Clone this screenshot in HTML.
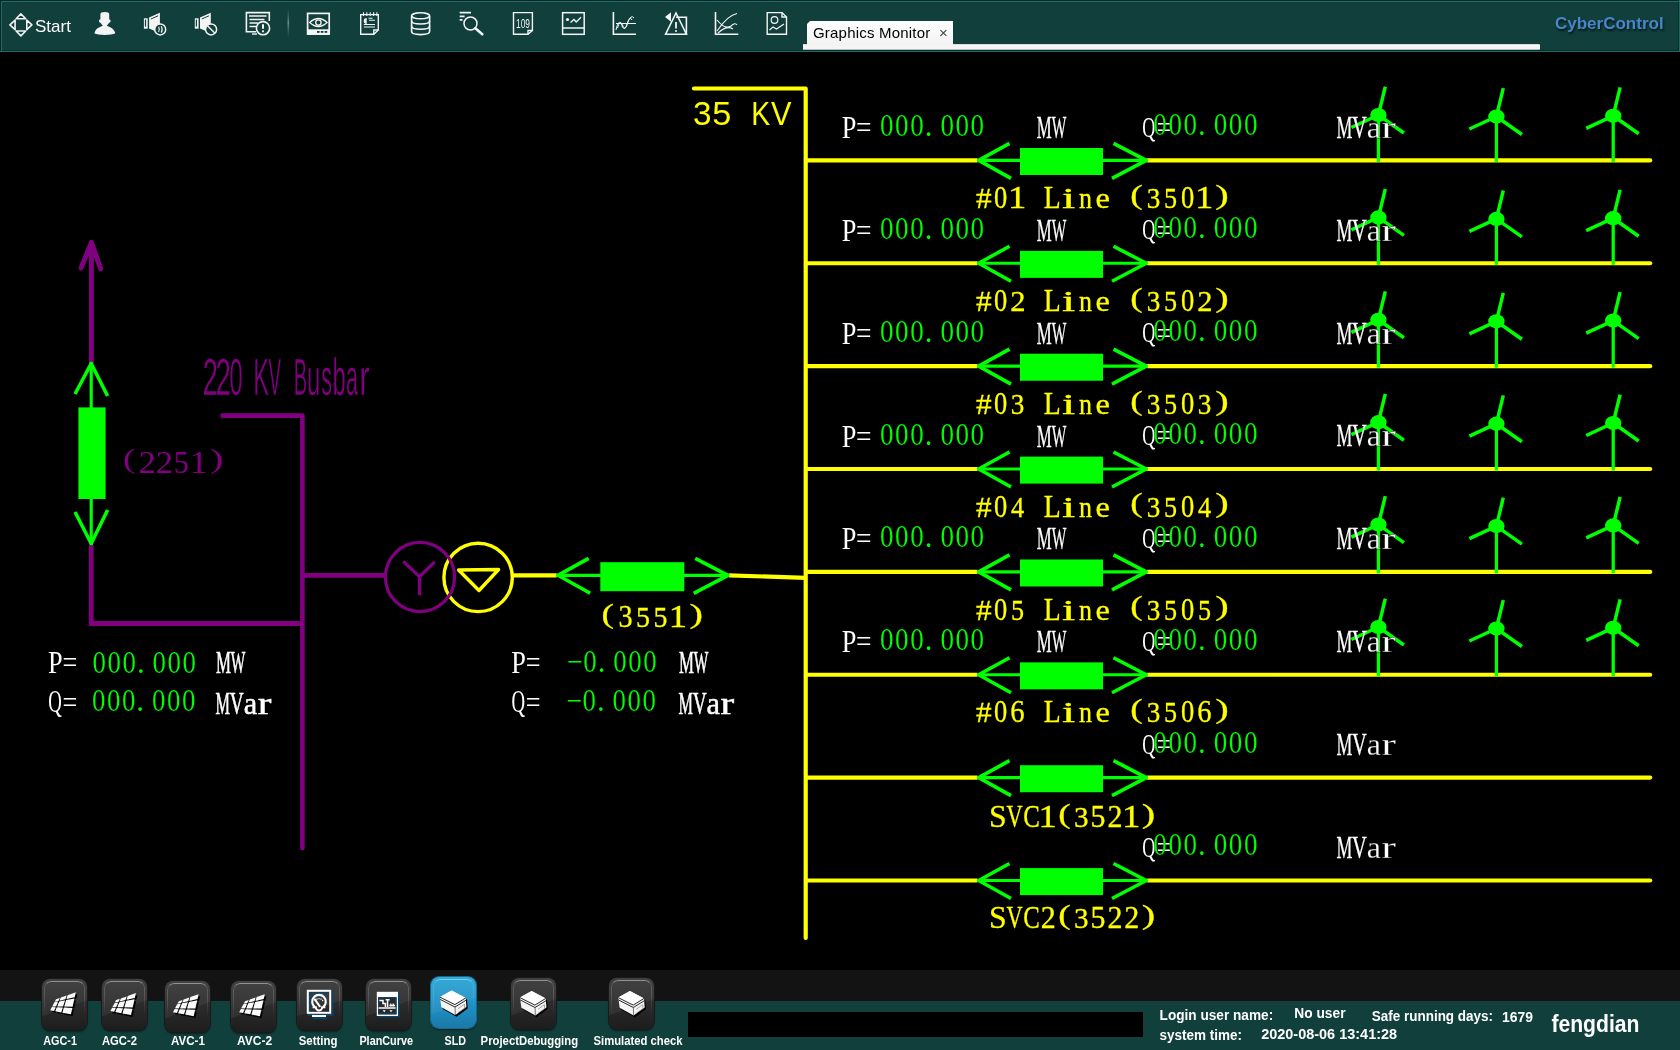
<!DOCTYPE html>
<html><head><meta charset="utf-8"><title>Graphics Monitor</title>
<style>
html,body{margin:0;padding:0;background:#000;width:1680px;height:1050px;overflow:hidden;}
body{position:relative;font-family:"Liberation Sans",sans-serif;}
.abs{position:absolute;will-change:transform;}
#top{position:absolute;left:0;top:0;width:1680px;height:52px;background:#103f3c;}
#top .b1{position:absolute;left:0;top:0;width:1680px;height:1px;background:#0b2626;}
#top .b2{position:absolute;left:1px;top:1px;width:1678px;height:1px;background:#1d6b66;}
#top .b3{position:absolute;left:0;top:0;width:1px;height:52px;background:#0b2626;}
#top .b4{position:absolute;left:1px;top:1px;width:1px;height:50px;background:#1d6b66;}
#top .b5{position:absolute;left:2px;top:50px;width:1677px;height:1px;background:#0c2b2b;}
#top .b6{position:absolute;left:0;top:51px;width:1680px;height:1px;background:#1d6b66;}
#top .b7{position:absolute;left:1678px;top:2px;width:1px;height:49px;background:#0c2b2b;}
#top .b8{position:absolute;left:1679px;top:0;width:1px;height:52px;background:#1d6b66;}
#tabbar{position:absolute;left:803px;top:44px;width:737px;height:6px;background:linear-gradient(#c8c8c8 0,#f6f6f6 18%,#f4f4f4 75%,#a0a0a0 100%);border-radius:0 1px 1px 0;}
#tab{position:absolute;will-change:transform;left:807px;top:21px;width:146px;height:25px;background:linear-gradient(#ffffff,#f2f2f2);clip-path:polygon(3px 0,100% 0,100% 100%,0 100%,0 3px);}
#tab .t{position:absolute;left:6px;top:3px;font-size:15px;letter-spacing:0.2px;color:#000;white-space:nowrap;}
#tab .x{position:absolute;left:132px;top:3px;font-size:15px;color:#444;}
#cyber{position:absolute;will-change:transform;left:1555px;top:14px;font-size:17px;font-weight:bold;color:#4a85c9;text-shadow:1px 2px 2px #061a1a;white-space:nowrap;}
#start{position:absolute;will-change:transform;left:35px;top:17px;font-size:17px;color:#fff;}
#bot1{position:absolute;left:0;top:970px;width:1680px;height:31px;background:#131313;}
#bot2{position:absolute;left:0;top:1001px;width:1680px;height:49px;background:#103f3c;}
#blackbox{position:absolute;left:688px;top:1012px;width:455px;height:25px;background:#000;}
.dg{position:absolute;left:0;top:0;will-change:transform;}
.btn{position:absolute;width:45px;height:51px;margin:0.5px 0 0 0.5px;border-radius:8px;background:linear-gradient(#383838,#2e2e2e 40%,#242424 75%,#1d1d1d);box-shadow:0 0 0 1px #1a1a1a, 0 2px 2px rgba(0,0,0,.45);}
.btn::before{content:"";position:absolute;left:2px;top:2px;right:2px;bottom:3px;border-radius:7px;border-top:1.8px solid rgba(255,255,255,.42);border-left:1.2px solid rgba(255,255,255,.16);border-right:1.2px solid rgba(255,255,255,.16);-webkit-mask-image:linear-gradient(#000 0,#000 30%,transparent 75%);}
.btn::after{content:"";position:absolute;left:0;top:0;right:0;bottom:0;border-radius:8px;background:linear-gradient(160deg,rgba(255,255,255,.05) 0,rgba(255,255,255,.05) 55%,rgba(0,0,0,0) 56%);}
.btn.blue{background:linear-gradient(#2aa5d5,#2196c9 40%,#1d86b8 75%,#1b79a8);box-shadow:0 0 0 1px #156a92, 0 2px 2px rgba(0,0,0,.45);}
.btn.blue::before{border-top-color:rgba(170,230,255,.55);border-left-color:rgba(170,230,255,.18);border-right-color:rgba(170,230,255,.18);}
.lbl{position:absolute;color:#fff;font-weight:bold;font-size:13px;white-space:nowrap;}
.st{position:absolute;color:#fff;font-weight:bold;font-size:14px;white-space:nowrap;}
</style></head><body>
<div id="top"><div class="b1"></div><div class="b2"></div><div class="b3"></div><div class="b4"></div><div class="b5"></div><div class="b6"></div><div class="b7"></div><div class="b8"></div></div>
<div id="tabbar"></div>
<div id="tab"><span class="t">Graphics Monitor</span><span class="x">×</span></div>
<div id="cyber">CyberControl</div>
<div id="start">Start</div>
<svg class="abs" style="left:0;top:0" width="800" height="52" viewBox="0 0 800 52">
<g fill="none" stroke="#f2f2f2" stroke-width="1.6" stroke-linejoin="round">
<path d="M20.9,13.9 L25.7,18.8 L16.1,18.8 Z M9.9,24.9 L15.1,20.1 L15.1,29.7 Z M31.9,24.9 L26.8,20.1 L26.8,29.7 Z M20.9,35.9 L16.1,31 L25.7,31 Z"/>
</g>
<g fill="#f4f4f4">
<path d="M100.4,14.2 Q100.4,12 104.8,12 Q109.2,12 109.2,14.2 L109.2,19.3 Q110.9,19.8 110.7,21 Q110.5,22.6 108.7,23.2 Q107.6,25 106.7,25.5 C108.5,26.6 113.2,28.2 114.3,31 Q115.3,32.3 115.1,33.6 Q112,34.9 104.8,34.9 Q97.6,34.9 94.6,33.6 Q94.4,32.3 95.3,31 C96.4,28.2 101.1,26.6 102.9,25.5 Q102,25 100.9,23.2 Q99.1,22.6 98.9,21 Q98.7,19.8 100.4,19.3 Z"/>
</g>
<g transform="translate(143.6,0)">
<rect x="0.3" y="18.3" width="3.8" height="10.4" fill="#f4f4f4"/>
<rect x="1.3" y="19.6" width="1.2" height="7" fill="#103f3c"/>
<path d="M5.5,17.5 L16.3,12.7 L16.3,27 Q14,28 12.5,31.5 L5.5,28.6 Z" fill="#f4f4f4"/>
<path d="M7.3,19 L14.5,15.8" stroke="#103f3c" stroke-width="1"/>
<circle cx="16.6" cy="29.4" r="5.5" fill="#103f3c" stroke="#f4f4f4" stroke-width="1.5"/>
<path d="M15,26.8 Q16.6,29.4 15,32 M17.6,26.2 Q19.6,29.4 17.6,32.6" fill="none" stroke="#f4f4f4" stroke-width="1.1"/>
</g>
<g transform="translate(194.5,0)">
<rect x="0.3" y="18.3" width="3.8" height="10.4" fill="#f4f4f4"/>
<rect x="1.3" y="19.6" width="1.2" height="7" fill="#103f3c"/>
<path d="M5.5,17.5 L16.3,12.7 L16.3,27 Q14,28 12.5,31.5 L5.5,28.6 Z" fill="#f4f4f4"/>
<path d="M7.3,19 L14.5,15.8" stroke="#103f3c" stroke-width="1"/>
<circle cx="16.6" cy="29.4" r="5.5" fill="#103f3c" stroke="#f4f4f4" stroke-width="1.5"/>
<path d="M13,25.8 L20.2,33" stroke="#f4f4f4" stroke-width="1.5"/>
</g>
<g fill="none" stroke="#f4f4f4" stroke-width="1.6">
<path d="M256,31.8 L246.4,31.8 L246.4,12.6 L269.3,12.6 L269.3,21"/>
<path d="M249,16 L266.5,16 M249.5,19.5 L264.5,19.5 M249.5,23 L258,23 M249.5,26.5 L256.5,26.5" stroke-width="1.5"/>
<path d="M252,34 L257,34" stroke-width="1.4"/>
</g>
<circle cx="263" cy="28.2" r="6.6" fill="#103f3c" stroke="#f4f4f4" stroke-width="1.6"/>
<path d="M263,24.3 L263,28.8" stroke="#f4f4f4" stroke-width="2"/><circle cx="263" cy="31.3" r="1.1" fill="#f4f4f4"/>
<defs><linearGradient id="sep" x1="0" y1="0" x2="0" y2="1"><stop offset="0" stop-color="#3d6b68" stop-opacity="0"/><stop offset="0.5" stop-color="#6f8f8c"/><stop offset="1" stop-color="#3d6b68" stop-opacity="0"/></linearGradient></defs>
<rect x="287.5" y="8" width="1.6" height="30" fill="url(#sep)"/>
<g fill="none" stroke="#f4f4f4" stroke-width="1.7">
<rect x="307.6" y="13.4" width="21.6" height="20.6"/>
<path d="M309.7,22.5 Q318.4,14.5 327.1,22.5 Q318.4,30.5 309.7,22.5 Z" stroke-width="1.2"/>
<circle cx="318.4" cy="22.5" r="2.7" stroke-width="1.3"/>
</g>
<rect x="307.6" y="29.3" width="21.6" height="5.6" fill="#f4f4f4"/>
<rect x="317" y="31" width="2.6" height="1.8" fill="#103f3c"/><rect x="320.8" y="31" width="2.6" height="1.8" fill="#103f3c"/><rect x="324.6" y="31" width="2.6" height="1.8" fill="#103f3c"/>
<g fill="none" stroke="#f4f4f4" stroke-width="1.4">
<path d="M360.7,14.6 L378.3,14.6 L378.3,30 L373.8,34.2 L360.7,34.2 Z"/>
<path d="M378.3,30 L373.8,30 L373.8,34.2"/>
<path d="M363.5,12.2 L363.5,16 M366.8,12.2 L366.8,16 M370.2,12.2 L370.2,16 M373.6,12.2 L373.6,16 M376.9,12.2 L376.9,16" stroke-width="1.1"/>
<path d="M368.5,18.3 L372.5,18.3 M369,20.3 L375,20.3 M363.8,24.5 L375,24.5 M363.8,27 L375,27" stroke-width="1.1"/>
</g>
<path d="M366.7,18 A3,3 0 1 0 366.7,24 L366.7,21 Z" fill="#f4f4f4"/>
<g fill="none" stroke="#f4f4f4" stroke-width="1.6">
<ellipse cx="420.6" cy="15.8" rx="9" ry="3"/>
<path d="M411.6,15.8 L411.6,31.6 Q411.6,34.6 420.6,34.6 Q429.6,34.6 429.6,31.6 L429.6,15.8"/>
<path d="M411.6,21 Q411.6,24 420.6,24 Q429.6,24 429.6,21 M411.6,26.3 Q411.6,29.3 420.6,29.3 Q429.6,29.3 429.6,26.3"/>
</g>
<g stroke="#f4f4f4" fill="none">
<path d="M459.7,12.7 L471,12.7 M459.7,16.3 L464.6,16.3 M459.7,19.9 L462.5,19.9" stroke-width="1.8"/>
<circle cx="470.5" cy="23.5" r="6.5" stroke-width="1.5"/>
<path d="M475.3,28.3 L482.3,34.2" stroke-width="2.6" stroke-linecap="round"/>
</g>
<g fill="none" stroke="#f4f4f4" stroke-width="1.4">
<path d="M513.5,12.6 L532.4,12.6 L532.4,30.5 L528,34.3 L513.5,34.3 Z"/>
<path d="M532.4,30.5 L528,30.5 L528,34.3"/>
</g>
<text x="516" y="28" font-family="Liberation Sans" font-size="13" fill="#f4f4f4" textLength="14" lengthAdjust="spacingAndGlyphs">109</text>
<g fill="none" stroke="#f4f4f4" stroke-width="1.5">
<rect x="562.6" y="12.7" width="21.6" height="21.6"/>
<path d="M562.6,28 L584.2,28"/>
<path d="M570.5,22.5 L574,19.5 L576.2,22 L581,17.3" stroke-width="1.3"/>
</g>
<circle cx="567.5" cy="19.5" r="1.6" fill="#f4f4f4"/>
<g fill="none" stroke="#f4f4f4">
<path d="M613.4,11.9 L613.4,34.2 L636,34.2" stroke-width="1.6"/>
<path d="M616,30 Q618,20 621,23 Q624,34 627,24 Q630,15 632,20 M617.5,28 Q620,19 622.5,25 Q625,33 628,22 Q631,14 634,18 M616,23.5 L636,23.5" stroke-width="1"/>
</g>
<g fill="none" stroke="#f4f4f4" stroke-width="1.6">
<path d="M676,13 L686.4,34.2 L665.6,34.2 Z"/>
<path d="M676,17.3 L686.4,17.3 L686.4,34.2"/>
</g>
<path d="M665,17 L671,12.2 L671,21.8 Z" fill="#f4f4f4"/>
<path d="M676,22 L676,28.5" stroke="#f4f4f4" stroke-width="1.8"/><circle cx="676" cy="31" r="1" fill="#f4f4f4"/>
<g fill="none" stroke="#f4f4f4">
<path d="M715.5,11.9 L715.5,34.2 L738.3,34.2" stroke-width="1.6"/>
<path d="M717,31 Q728,15 737,13.5 M717,20 Q725,30 731,26 Q735,22 737,25 M718,33 Q727,25 733,29" stroke-width="1.1"/>
</g>
<g fill="none" stroke="#f4f4f4" stroke-width="1.4">
<path d="M767.2,12.6 L782,12.6 L786.5,17 L786.5,34.3 L767.2,34.3 Z"/>
<path d="M782,12.6 L782,17 L786.5,17"/>
<circle cx="774.5" cy="20" r="3.3" stroke-width="1.2"/>
<path d="M769.5,30 L773,27 L776.5,29 L784,24" stroke-width="1.2"/>
</g>
</svg>
<svg class="dg" width="1680" height="1050" viewBox="0 0 1680 1050">
<polyline points="694.00,88.50 805.70,88.50 805.70,938.00" fill="none" stroke="#ffff00" stroke-width="4.20" stroke-linecap="round" stroke-linejoin="round"/>
<g font-family="'Liberation Sans', sans-serif" font-weight="normal" font-size="32.50" fill="#ffff00">
<text transform="translate(702.25,124.60) scale(1.025,1.000)" x="-8.94">3</text>
<text transform="translate(721.75,124.60) scale(1.058,1.000)" x="-9.01">5</text>
</g>
<g font-family="'Liberation Sans', sans-serif" font-weight="normal" font-size="32.50" fill="#ffff00">
<text transform="translate(761.75,124.60) scale(0.874,1.000)" x="-11.99">K</text>
<text transform="translate(781.25,124.60) scale(0.944,1.000)" x="-10.84">V</text>
</g>
<line x1="805.70" y1="160.40" x2="977.50" y2="160.40" stroke="#ffff00" stroke-width="4.20" stroke-linecap="butt"/>
<line x1="1147.50" y1="160.40" x2="1650.20" y2="160.40" stroke="#ffff00" stroke-width="4.20" stroke-linecap="round"/>
<line x1="977.50" y1="160.40" x2="1147.50" y2="160.40" stroke="#00ff00" stroke-width="3.20" stroke-linecap="butt"/>
<rect x="1020.00" y="148.00" width="83.00" height="27.00" fill="#00ff00"/>
<polyline points="1009.50,143.40 978.70,160.40 1011.00,178.40" fill="none" stroke="#00ff00" stroke-width="3.60" stroke-linecap="butt" stroke-linejoin="round"/>
<polyline points="1113.50,143.40 1146.30,160.40 1112.00,178.40" fill="none" stroke="#00ff00" stroke-width="3.60" stroke-linecap="butt" stroke-linejoin="round"/>
<line x1="1378.40" y1="115.00" x2="1378.40" y2="161.90" stroke="#00ff00" stroke-width="3.30" stroke-linecap="butt"/>
<line x1="1378.40" y1="115.00" x2="1385.30" y2="86.60" stroke="#00ff00" stroke-width="3.50" stroke-linecap="butt"/>
<line x1="1378.40" y1="115.00" x2="1351.40" y2="127.50" stroke="#00ff00" stroke-width="3.50" stroke-linecap="butt"/>
<line x1="1378.40" y1="115.00" x2="1403.90" y2="133.00" stroke="#00ff00" stroke-width="3.50" stroke-linecap="butt"/>
<ellipse cx="1378.40" cy="115.00" rx="8.2" ry="7.1" fill="#00ff00"/>
<line x1="1496.40" y1="116.50" x2="1496.40" y2="161.90" stroke="#00ff00" stroke-width="3.30" stroke-linecap="butt"/>
<line x1="1496.40" y1="116.50" x2="1503.30" y2="88.10" stroke="#00ff00" stroke-width="3.50" stroke-linecap="butt"/>
<line x1="1496.40" y1="116.50" x2="1469.40" y2="129.00" stroke="#00ff00" stroke-width="3.50" stroke-linecap="butt"/>
<line x1="1496.40" y1="116.50" x2="1521.90" y2="134.50" stroke="#00ff00" stroke-width="3.50" stroke-linecap="butt"/>
<ellipse cx="1496.40" cy="116.50" rx="8.2" ry="7.1" fill="#00ff00"/>
<line x1="1613.20" y1="115.80" x2="1613.20" y2="161.90" stroke="#00ff00" stroke-width="3.30" stroke-linecap="butt"/>
<line x1="1613.20" y1="115.80" x2="1620.10" y2="87.40" stroke="#00ff00" stroke-width="3.50" stroke-linecap="butt"/>
<line x1="1613.20" y1="115.80" x2="1586.20" y2="128.30" stroke="#00ff00" stroke-width="3.50" stroke-linecap="butt"/>
<line x1="1613.20" y1="115.80" x2="1638.70" y2="133.80" stroke="#00ff00" stroke-width="3.50" stroke-linecap="butt"/>
<ellipse cx="1613.20" cy="115.80" rx="8.2" ry="7.1" fill="#00ff00"/>
<g font-family="'Liberation Serif', serif" font-weight="normal" font-size="32.00" fill="#ffffff">
<text transform="translate(848.80,137.90) scale(0.821,1.000)" x="-8.72">P</text>
<text transform="translate(863.80,137.90) scale(0.860,1.000)" x="-9.04">=</text>
</g>
<g font-family="'Liberation Serif', serif" font-weight="normal" font-size="30.70" fill="#00ff00" stroke="#000" stroke-width="0.15">
<text transform="translate(886.75,136.00) scale(0.882,1.000)" x="-7.67">0</text>
<text transform="translate(901.85,136.00) scale(0.882,1.000)" x="-7.67">0</text>
<text transform="translate(916.95,136.00) scale(0.882,1.000)" x="-7.67">0</text>
<text transform="translate(928.58,136.00) scale(1.000,1.000)" x="-3.84">.</text>
<text transform="translate(947.15,136.00) scale(0.882,1.000)" x="-7.67">0</text>
<text transform="translate(962.25,136.00) scale(0.882,1.000)" x="-7.67">0</text>
<text transform="translate(977.35,136.00) scale(0.882,1.000)" x="-7.67">0</text>
</g>
<g font-family="'Liberation Serif', serif" font-weight="normal" font-size="32.00" fill="#ffffff" stroke="#ffffff" stroke-width="0.30">
<text transform="translate(1044.35,137.90) scale(0.526,1.000)" x="-14.22">M</text>
<text transform="translate(1059.05,137.90) scale(0.482,1.000)" x="-15.09">W</text>
</g>
<g font-family="'Liberation Serif', serif" font-weight="normal" font-size="29.40" fill="#ffffff">
<text transform="translate(1148.90,136.50) scale(0.615,1.000)" x="-10.97">Q</text>
</g>
<g font-family="'Liberation Serif', serif" font-weight="normal" font-size="31.50" fill="#ffffff">
<text transform="translate(1163.80,137.80) scale(0.805,1.000)" x="-8.90">=</text>
</g>
<g font-family="'Liberation Serif', serif" font-weight="normal" font-size="30.70" fill="#00ff00" stroke="#000" stroke-width="0.15">
<text transform="translate(1160.05,135.30) scale(0.882,1.000)" x="-7.67">0</text>
<text transform="translate(1175.15,135.30) scale(0.882,1.000)" x="-7.67">0</text>
<text transform="translate(1190.25,135.30) scale(0.882,1.000)" x="-7.67">0</text>
<text transform="translate(1201.88,135.30) scale(1.000,1.000)" x="-3.84">.</text>
<text transform="translate(1220.45,135.30) scale(0.882,1.000)" x="-7.67">0</text>
<text transform="translate(1235.55,135.30) scale(0.882,1.000)" x="-7.67">0</text>
<text transform="translate(1250.65,135.30) scale(0.882,1.000)" x="-7.67">0</text>
</g>
<g font-family="'Liberation Serif', serif" font-weight="normal" font-size="32.00" fill="#ffffff" stroke="#ffffff" stroke-width="0.30">
<text transform="translate(1344.50,137.80) scale(0.557,1.000)" x="-14.22">M</text>
<text transform="translate(1359.30,137.80) scale(0.639,1.000)" x="-11.55">V</text>
</g>
<g font-family="'Liberation Serif', serif" font-weight="normal" font-size="32.00" fill="#ffffff" stroke="#000" stroke-width="0.25">
<text transform="translate(1374.10,137.80) scale(0.997,1.000)" x="-7.45">a</text>
<text transform="translate(1388.90,137.80) scale(1.377,1.000)" x="-5.51">r</text>
</g>
<g font-family="'Liberation Serif', serif" font-weight="normal" font-size="30.50" fill="#ffff00" stroke="#ffff00" stroke-width="0.30">
<text transform="translate(983.70,208.10) scale(1.025,1.000)" x="-7.62">#</text>
<text transform="translate(1000.70,208.10) scale(0.868,1.000)" x="-7.62">0</text>
<text transform="translate(1017.70,208.10) scale(1.201,1.000)" x="-8.05">1</text>
<text transform="translate(1051.70,208.10) scale(0.911,1.000)" x="-8.84">L</text>
<text transform="translate(1068.70,208.10) scale(1.558,1.000)" x="-4.27">i</text>
<text transform="translate(1085.70,208.10) scale(0.852,1.000)" x="-7.74">n</text>
<text transform="translate(1102.70,208.10) scale(1.063,1.000)" x="-6.84">e</text>
<text transform="translate(1136.70,203.85) scale(1.226,0.900)" x="-5.26">(</text>
<text transform="translate(1153.70,208.10) scale(0.891,1.000)" x="-7.76">3</text>
<text transform="translate(1170.70,208.10) scale(0.858,1.000)" x="-7.92">5</text>
<text transform="translate(1187.70,208.10) scale(0.868,1.000)" x="-7.62">0</text>
<text transform="translate(1204.70,208.10) scale(1.201,1.000)" x="-8.05">1</text>
<text transform="translate(1221.70,203.85) scale(1.328,0.900)" x="-4.90">)</text>
</g>
<line x1="805.70" y1="263.27" x2="977.50" y2="263.27" stroke="#ffff00" stroke-width="4.20" stroke-linecap="butt"/>
<line x1="1147.50" y1="263.27" x2="1650.20" y2="263.27" stroke="#ffff00" stroke-width="4.20" stroke-linecap="round"/>
<line x1="977.50" y1="263.27" x2="1147.50" y2="263.27" stroke="#00ff00" stroke-width="3.20" stroke-linecap="butt"/>
<rect x="1020.00" y="250.87" width="83.00" height="27.00" fill="#00ff00"/>
<polyline points="1009.50,246.27 978.70,263.27 1011.00,281.27" fill="none" stroke="#00ff00" stroke-width="3.60" stroke-linecap="butt" stroke-linejoin="round"/>
<polyline points="1113.50,246.27 1146.30,263.27 1112.00,281.27" fill="none" stroke="#00ff00" stroke-width="3.60" stroke-linecap="butt" stroke-linejoin="round"/>
<line x1="1378.40" y1="217.40" x2="1378.40" y2="264.77" stroke="#00ff00" stroke-width="3.30" stroke-linecap="butt"/>
<line x1="1378.40" y1="217.40" x2="1385.30" y2="189.00" stroke="#00ff00" stroke-width="3.50" stroke-linecap="butt"/>
<line x1="1378.40" y1="217.40" x2="1351.40" y2="229.90" stroke="#00ff00" stroke-width="3.50" stroke-linecap="butt"/>
<line x1="1378.40" y1="217.40" x2="1403.90" y2="235.40" stroke="#00ff00" stroke-width="3.50" stroke-linecap="butt"/>
<ellipse cx="1378.40" cy="217.40" rx="8.2" ry="7.1" fill="#00ff00"/>
<line x1="1496.40" y1="218.90" x2="1496.40" y2="264.77" stroke="#00ff00" stroke-width="3.30" stroke-linecap="butt"/>
<line x1="1496.40" y1="218.90" x2="1503.30" y2="190.50" stroke="#00ff00" stroke-width="3.50" stroke-linecap="butt"/>
<line x1="1496.40" y1="218.90" x2="1469.40" y2="231.40" stroke="#00ff00" stroke-width="3.50" stroke-linecap="butt"/>
<line x1="1496.40" y1="218.90" x2="1521.90" y2="236.90" stroke="#00ff00" stroke-width="3.50" stroke-linecap="butt"/>
<ellipse cx="1496.40" cy="218.90" rx="8.2" ry="7.1" fill="#00ff00"/>
<line x1="1613.20" y1="218.20" x2="1613.20" y2="264.77" stroke="#00ff00" stroke-width="3.30" stroke-linecap="butt"/>
<line x1="1613.20" y1="218.20" x2="1620.10" y2="189.80" stroke="#00ff00" stroke-width="3.50" stroke-linecap="butt"/>
<line x1="1613.20" y1="218.20" x2="1586.20" y2="230.70" stroke="#00ff00" stroke-width="3.50" stroke-linecap="butt"/>
<line x1="1613.20" y1="218.20" x2="1638.70" y2="236.20" stroke="#00ff00" stroke-width="3.50" stroke-linecap="butt"/>
<ellipse cx="1613.20" cy="218.20" rx="8.2" ry="7.1" fill="#00ff00"/>
<g font-family="'Liberation Serif', serif" font-weight="normal" font-size="32.00" fill="#ffffff">
<text transform="translate(848.80,240.77) scale(0.821,1.000)" x="-8.72">P</text>
<text transform="translate(863.80,240.77) scale(0.860,1.000)" x="-9.04">=</text>
</g>
<g font-family="'Liberation Serif', serif" font-weight="normal" font-size="30.70" fill="#00ff00" stroke="#000" stroke-width="0.15">
<text transform="translate(886.75,238.87) scale(0.882,1.000)" x="-7.67">0</text>
<text transform="translate(901.85,238.87) scale(0.882,1.000)" x="-7.67">0</text>
<text transform="translate(916.95,238.87) scale(0.882,1.000)" x="-7.67">0</text>
<text transform="translate(928.58,238.87) scale(1.000,1.000)" x="-3.84">.</text>
<text transform="translate(947.15,238.87) scale(0.882,1.000)" x="-7.67">0</text>
<text transform="translate(962.25,238.87) scale(0.882,1.000)" x="-7.67">0</text>
<text transform="translate(977.35,238.87) scale(0.882,1.000)" x="-7.67">0</text>
</g>
<g font-family="'Liberation Serif', serif" font-weight="normal" font-size="32.00" fill="#ffffff" stroke="#ffffff" stroke-width="0.30">
<text transform="translate(1044.35,240.77) scale(0.526,1.000)" x="-14.22">M</text>
<text transform="translate(1059.05,240.77) scale(0.482,1.000)" x="-15.09">W</text>
</g>
<g font-family="'Liberation Serif', serif" font-weight="normal" font-size="29.40" fill="#ffffff">
<text transform="translate(1148.90,239.37) scale(0.615,1.000)" x="-10.97">Q</text>
</g>
<g font-family="'Liberation Serif', serif" font-weight="normal" font-size="31.50" fill="#ffffff">
<text transform="translate(1163.80,240.67) scale(0.805,1.000)" x="-8.90">=</text>
</g>
<g font-family="'Liberation Serif', serif" font-weight="normal" font-size="30.70" fill="#00ff00" stroke="#000" stroke-width="0.15">
<text transform="translate(1160.05,238.17) scale(0.882,1.000)" x="-7.67">0</text>
<text transform="translate(1175.15,238.17) scale(0.882,1.000)" x="-7.67">0</text>
<text transform="translate(1190.25,238.17) scale(0.882,1.000)" x="-7.67">0</text>
<text transform="translate(1201.88,238.17) scale(1.000,1.000)" x="-3.84">.</text>
<text transform="translate(1220.45,238.17) scale(0.882,1.000)" x="-7.67">0</text>
<text transform="translate(1235.55,238.17) scale(0.882,1.000)" x="-7.67">0</text>
<text transform="translate(1250.65,238.17) scale(0.882,1.000)" x="-7.67">0</text>
</g>
<g font-family="'Liberation Serif', serif" font-weight="normal" font-size="32.00" fill="#ffffff" stroke="#ffffff" stroke-width="0.30">
<text transform="translate(1344.50,240.67) scale(0.557,1.000)" x="-14.22">M</text>
<text transform="translate(1359.30,240.67) scale(0.639,1.000)" x="-11.55">V</text>
</g>
<g font-family="'Liberation Serif', serif" font-weight="normal" font-size="32.00" fill="#ffffff" stroke="#000" stroke-width="0.25">
<text transform="translate(1374.10,240.67) scale(0.997,1.000)" x="-7.45">a</text>
<text transform="translate(1388.90,240.67) scale(1.377,1.000)" x="-5.51">r</text>
</g>
<g font-family="'Liberation Serif', serif" font-weight="normal" font-size="30.50" fill="#ffff00" stroke="#ffff00" stroke-width="0.30">
<text transform="translate(983.70,310.97) scale(1.025,1.000)" x="-7.62">#</text>
<text transform="translate(1000.70,310.97) scale(0.868,1.000)" x="-7.62">0</text>
<text transform="translate(1017.70,310.97) scale(1.001,1.000)" x="-7.45">2</text>
<text transform="translate(1051.70,310.97) scale(0.911,1.000)" x="-8.84">L</text>
<text transform="translate(1068.70,310.97) scale(1.558,1.000)" x="-4.27">i</text>
<text transform="translate(1085.70,310.97) scale(0.852,1.000)" x="-7.74">n</text>
<text transform="translate(1102.70,310.97) scale(1.063,1.000)" x="-6.84">e</text>
<text transform="translate(1136.70,306.72) scale(1.226,0.900)" x="-5.26">(</text>
<text transform="translate(1153.70,310.97) scale(0.891,1.000)" x="-7.76">3</text>
<text transform="translate(1170.70,310.97) scale(0.858,1.000)" x="-7.92">5</text>
<text transform="translate(1187.70,310.97) scale(0.868,1.000)" x="-7.62">0</text>
<text transform="translate(1204.70,310.97) scale(1.001,1.000)" x="-7.45">2</text>
<text transform="translate(1221.70,306.72) scale(1.328,0.900)" x="-4.90">)</text>
</g>
<line x1="805.70" y1="366.14" x2="977.50" y2="366.14" stroke="#ffff00" stroke-width="4.20" stroke-linecap="butt"/>
<line x1="1147.50" y1="366.14" x2="1650.20" y2="366.14" stroke="#ffff00" stroke-width="4.20" stroke-linecap="round"/>
<line x1="977.50" y1="366.14" x2="1147.50" y2="366.14" stroke="#00ff00" stroke-width="3.20" stroke-linecap="butt"/>
<rect x="1020.00" y="353.74" width="83.00" height="27.00" fill="#00ff00"/>
<polyline points="1009.50,349.14 978.70,366.14 1011.00,384.14" fill="none" stroke="#00ff00" stroke-width="3.60" stroke-linecap="butt" stroke-linejoin="round"/>
<polyline points="1113.50,349.14 1146.30,366.14 1112.00,384.14" fill="none" stroke="#00ff00" stroke-width="3.60" stroke-linecap="butt" stroke-linejoin="round"/>
<line x1="1378.40" y1="319.80" x2="1378.40" y2="367.64" stroke="#00ff00" stroke-width="3.30" stroke-linecap="butt"/>
<line x1="1378.40" y1="319.80" x2="1385.30" y2="291.40" stroke="#00ff00" stroke-width="3.50" stroke-linecap="butt"/>
<line x1="1378.40" y1="319.80" x2="1351.40" y2="332.30" stroke="#00ff00" stroke-width="3.50" stroke-linecap="butt"/>
<line x1="1378.40" y1="319.80" x2="1403.90" y2="337.80" stroke="#00ff00" stroke-width="3.50" stroke-linecap="butt"/>
<ellipse cx="1378.40" cy="319.80" rx="8.2" ry="7.1" fill="#00ff00"/>
<line x1="1496.40" y1="321.30" x2="1496.40" y2="367.64" stroke="#00ff00" stroke-width="3.30" stroke-linecap="butt"/>
<line x1="1496.40" y1="321.30" x2="1503.30" y2="292.90" stroke="#00ff00" stroke-width="3.50" stroke-linecap="butt"/>
<line x1="1496.40" y1="321.30" x2="1469.40" y2="333.80" stroke="#00ff00" stroke-width="3.50" stroke-linecap="butt"/>
<line x1="1496.40" y1="321.30" x2="1521.90" y2="339.30" stroke="#00ff00" stroke-width="3.50" stroke-linecap="butt"/>
<ellipse cx="1496.40" cy="321.30" rx="8.2" ry="7.1" fill="#00ff00"/>
<line x1="1613.20" y1="320.60" x2="1613.20" y2="367.64" stroke="#00ff00" stroke-width="3.30" stroke-linecap="butt"/>
<line x1="1613.20" y1="320.60" x2="1620.10" y2="292.20" stroke="#00ff00" stroke-width="3.50" stroke-linecap="butt"/>
<line x1="1613.20" y1="320.60" x2="1586.20" y2="333.10" stroke="#00ff00" stroke-width="3.50" stroke-linecap="butt"/>
<line x1="1613.20" y1="320.60" x2="1638.70" y2="338.60" stroke="#00ff00" stroke-width="3.50" stroke-linecap="butt"/>
<ellipse cx="1613.20" cy="320.60" rx="8.2" ry="7.1" fill="#00ff00"/>
<g font-family="'Liberation Serif', serif" font-weight="normal" font-size="32.00" fill="#ffffff">
<text transform="translate(848.80,343.64) scale(0.821,1.000)" x="-8.72">P</text>
<text transform="translate(863.80,343.64) scale(0.860,1.000)" x="-9.04">=</text>
</g>
<g font-family="'Liberation Serif', serif" font-weight="normal" font-size="30.70" fill="#00ff00" stroke="#000" stroke-width="0.15">
<text transform="translate(886.75,341.74) scale(0.882,1.000)" x="-7.67">0</text>
<text transform="translate(901.85,341.74) scale(0.882,1.000)" x="-7.67">0</text>
<text transform="translate(916.95,341.74) scale(0.882,1.000)" x="-7.67">0</text>
<text transform="translate(928.58,341.74) scale(1.000,1.000)" x="-3.84">.</text>
<text transform="translate(947.15,341.74) scale(0.882,1.000)" x="-7.67">0</text>
<text transform="translate(962.25,341.74) scale(0.882,1.000)" x="-7.67">0</text>
<text transform="translate(977.35,341.74) scale(0.882,1.000)" x="-7.67">0</text>
</g>
<g font-family="'Liberation Serif', serif" font-weight="normal" font-size="32.00" fill="#ffffff" stroke="#ffffff" stroke-width="0.30">
<text transform="translate(1044.35,343.64) scale(0.526,1.000)" x="-14.22">M</text>
<text transform="translate(1059.05,343.64) scale(0.482,1.000)" x="-15.09">W</text>
</g>
<g font-family="'Liberation Serif', serif" font-weight="normal" font-size="29.40" fill="#ffffff">
<text transform="translate(1148.90,342.24) scale(0.615,1.000)" x="-10.97">Q</text>
</g>
<g font-family="'Liberation Serif', serif" font-weight="normal" font-size="31.50" fill="#ffffff">
<text transform="translate(1163.80,343.54) scale(0.805,1.000)" x="-8.90">=</text>
</g>
<g font-family="'Liberation Serif', serif" font-weight="normal" font-size="30.70" fill="#00ff00" stroke="#000" stroke-width="0.15">
<text transform="translate(1160.05,341.04) scale(0.882,1.000)" x="-7.67">0</text>
<text transform="translate(1175.15,341.04) scale(0.882,1.000)" x="-7.67">0</text>
<text transform="translate(1190.25,341.04) scale(0.882,1.000)" x="-7.67">0</text>
<text transform="translate(1201.88,341.04) scale(1.000,1.000)" x="-3.84">.</text>
<text transform="translate(1220.45,341.04) scale(0.882,1.000)" x="-7.67">0</text>
<text transform="translate(1235.55,341.04) scale(0.882,1.000)" x="-7.67">0</text>
<text transform="translate(1250.65,341.04) scale(0.882,1.000)" x="-7.67">0</text>
</g>
<g font-family="'Liberation Serif', serif" font-weight="normal" font-size="32.00" fill="#ffffff" stroke="#ffffff" stroke-width="0.30">
<text transform="translate(1344.50,343.54) scale(0.557,1.000)" x="-14.22">M</text>
<text transform="translate(1359.30,343.54) scale(0.639,1.000)" x="-11.55">V</text>
</g>
<g font-family="'Liberation Serif', serif" font-weight="normal" font-size="32.00" fill="#ffffff" stroke="#000" stroke-width="0.25">
<text transform="translate(1374.10,343.54) scale(0.997,1.000)" x="-7.45">a</text>
<text transform="translate(1388.90,343.54) scale(1.377,1.000)" x="-5.51">r</text>
</g>
<g font-family="'Liberation Serif', serif" font-weight="normal" font-size="30.50" fill="#ffff00" stroke="#ffff00" stroke-width="0.30">
<text transform="translate(983.70,413.84) scale(1.025,1.000)" x="-7.62">#</text>
<text transform="translate(1000.70,413.84) scale(0.868,1.000)" x="-7.62">0</text>
<text transform="translate(1017.70,413.84) scale(0.891,1.000)" x="-7.76">3</text>
<text transform="translate(1051.70,413.84) scale(0.911,1.000)" x="-8.84">L</text>
<text transform="translate(1068.70,413.84) scale(1.558,1.000)" x="-4.27">i</text>
<text transform="translate(1085.70,413.84) scale(0.852,1.000)" x="-7.74">n</text>
<text transform="translate(1102.70,413.84) scale(1.063,1.000)" x="-6.84">e</text>
<text transform="translate(1136.70,409.59) scale(1.226,0.900)" x="-5.26">(</text>
<text transform="translate(1153.70,413.84) scale(0.891,1.000)" x="-7.76">3</text>
<text transform="translate(1170.70,413.84) scale(0.858,1.000)" x="-7.92">5</text>
<text transform="translate(1187.70,413.84) scale(0.868,1.000)" x="-7.62">0</text>
<text transform="translate(1204.70,413.84) scale(0.891,1.000)" x="-7.76">3</text>
<text transform="translate(1221.70,409.59) scale(1.328,0.900)" x="-4.90">)</text>
</g>
<line x1="805.70" y1="469.01" x2="977.50" y2="469.01" stroke="#ffff00" stroke-width="4.20" stroke-linecap="butt"/>
<line x1="1147.50" y1="469.01" x2="1650.20" y2="469.01" stroke="#ffff00" stroke-width="4.20" stroke-linecap="round"/>
<line x1="977.50" y1="469.01" x2="1147.50" y2="469.01" stroke="#00ff00" stroke-width="3.20" stroke-linecap="butt"/>
<rect x="1020.00" y="456.61" width="83.00" height="27.00" fill="#00ff00"/>
<polyline points="1009.50,452.01 978.70,469.01 1011.00,487.01" fill="none" stroke="#00ff00" stroke-width="3.60" stroke-linecap="butt" stroke-linejoin="round"/>
<polyline points="1113.50,452.01 1146.30,469.01 1112.00,487.01" fill="none" stroke="#00ff00" stroke-width="3.60" stroke-linecap="butt" stroke-linejoin="round"/>
<line x1="1378.40" y1="422.20" x2="1378.40" y2="470.51" stroke="#00ff00" stroke-width="3.30" stroke-linecap="butt"/>
<line x1="1378.40" y1="422.20" x2="1385.30" y2="393.80" stroke="#00ff00" stroke-width="3.50" stroke-linecap="butt"/>
<line x1="1378.40" y1="422.20" x2="1351.40" y2="434.70" stroke="#00ff00" stroke-width="3.50" stroke-linecap="butt"/>
<line x1="1378.40" y1="422.20" x2="1403.90" y2="440.20" stroke="#00ff00" stroke-width="3.50" stroke-linecap="butt"/>
<ellipse cx="1378.40" cy="422.20" rx="8.2" ry="7.1" fill="#00ff00"/>
<line x1="1496.40" y1="423.70" x2="1496.40" y2="470.51" stroke="#00ff00" stroke-width="3.30" stroke-linecap="butt"/>
<line x1="1496.40" y1="423.70" x2="1503.30" y2="395.30" stroke="#00ff00" stroke-width="3.50" stroke-linecap="butt"/>
<line x1="1496.40" y1="423.70" x2="1469.40" y2="436.20" stroke="#00ff00" stroke-width="3.50" stroke-linecap="butt"/>
<line x1="1496.40" y1="423.70" x2="1521.90" y2="441.70" stroke="#00ff00" stroke-width="3.50" stroke-linecap="butt"/>
<ellipse cx="1496.40" cy="423.70" rx="8.2" ry="7.1" fill="#00ff00"/>
<line x1="1613.20" y1="423.00" x2="1613.20" y2="470.51" stroke="#00ff00" stroke-width="3.30" stroke-linecap="butt"/>
<line x1="1613.20" y1="423.00" x2="1620.10" y2="394.60" stroke="#00ff00" stroke-width="3.50" stroke-linecap="butt"/>
<line x1="1613.20" y1="423.00" x2="1586.20" y2="435.50" stroke="#00ff00" stroke-width="3.50" stroke-linecap="butt"/>
<line x1="1613.20" y1="423.00" x2="1638.70" y2="441.00" stroke="#00ff00" stroke-width="3.50" stroke-linecap="butt"/>
<ellipse cx="1613.20" cy="423.00" rx="8.2" ry="7.1" fill="#00ff00"/>
<g font-family="'Liberation Serif', serif" font-weight="normal" font-size="32.00" fill="#ffffff">
<text transform="translate(848.80,446.51) scale(0.821,1.000)" x="-8.72">P</text>
<text transform="translate(863.80,446.51) scale(0.860,1.000)" x="-9.04">=</text>
</g>
<g font-family="'Liberation Serif', serif" font-weight="normal" font-size="30.70" fill="#00ff00" stroke="#000" stroke-width="0.15">
<text transform="translate(886.75,444.61) scale(0.882,1.000)" x="-7.67">0</text>
<text transform="translate(901.85,444.61) scale(0.882,1.000)" x="-7.67">0</text>
<text transform="translate(916.95,444.61) scale(0.882,1.000)" x="-7.67">0</text>
<text transform="translate(928.58,444.61) scale(1.000,1.000)" x="-3.84">.</text>
<text transform="translate(947.15,444.61) scale(0.882,1.000)" x="-7.67">0</text>
<text transform="translate(962.25,444.61) scale(0.882,1.000)" x="-7.67">0</text>
<text transform="translate(977.35,444.61) scale(0.882,1.000)" x="-7.67">0</text>
</g>
<g font-family="'Liberation Serif', serif" font-weight="normal" font-size="32.00" fill="#ffffff" stroke="#ffffff" stroke-width="0.30">
<text transform="translate(1044.35,446.51) scale(0.526,1.000)" x="-14.22">M</text>
<text transform="translate(1059.05,446.51) scale(0.482,1.000)" x="-15.09">W</text>
</g>
<g font-family="'Liberation Serif', serif" font-weight="normal" font-size="29.40" fill="#ffffff">
<text transform="translate(1148.90,445.11) scale(0.615,1.000)" x="-10.97">Q</text>
</g>
<g font-family="'Liberation Serif', serif" font-weight="normal" font-size="31.50" fill="#ffffff">
<text transform="translate(1163.80,446.41) scale(0.805,1.000)" x="-8.90">=</text>
</g>
<g font-family="'Liberation Serif', serif" font-weight="normal" font-size="30.70" fill="#00ff00" stroke="#000" stroke-width="0.15">
<text transform="translate(1160.05,443.91) scale(0.882,1.000)" x="-7.67">0</text>
<text transform="translate(1175.15,443.91) scale(0.882,1.000)" x="-7.67">0</text>
<text transform="translate(1190.25,443.91) scale(0.882,1.000)" x="-7.67">0</text>
<text transform="translate(1201.88,443.91) scale(1.000,1.000)" x="-3.84">.</text>
<text transform="translate(1220.45,443.91) scale(0.882,1.000)" x="-7.67">0</text>
<text transform="translate(1235.55,443.91) scale(0.882,1.000)" x="-7.67">0</text>
<text transform="translate(1250.65,443.91) scale(0.882,1.000)" x="-7.67">0</text>
</g>
<g font-family="'Liberation Serif', serif" font-weight="normal" font-size="32.00" fill="#ffffff" stroke="#ffffff" stroke-width="0.30">
<text transform="translate(1344.50,446.41) scale(0.557,1.000)" x="-14.22">M</text>
<text transform="translate(1359.30,446.41) scale(0.639,1.000)" x="-11.55">V</text>
</g>
<g font-family="'Liberation Serif', serif" font-weight="normal" font-size="32.00" fill="#ffffff" stroke="#000" stroke-width="0.25">
<text transform="translate(1374.10,446.41) scale(0.997,1.000)" x="-7.45">a</text>
<text transform="translate(1388.90,446.41) scale(1.377,1.000)" x="-5.51">r</text>
</g>
<g font-family="'Liberation Serif', serif" font-weight="normal" font-size="30.50" fill="#ffff00" stroke="#ffff00" stroke-width="0.30">
<text transform="translate(983.70,516.71) scale(1.025,1.000)" x="-7.62">#</text>
<text transform="translate(1000.70,516.71) scale(0.868,1.000)" x="-7.62">0</text>
<text transform="translate(1017.70,516.71) scale(0.863,1.000)" x="-7.68">4</text>
<text transform="translate(1051.70,516.71) scale(0.911,1.000)" x="-8.84">L</text>
<text transform="translate(1068.70,516.71) scale(1.558,1.000)" x="-4.27">i</text>
<text transform="translate(1085.70,516.71) scale(0.852,1.000)" x="-7.74">n</text>
<text transform="translate(1102.70,516.71) scale(1.063,1.000)" x="-6.84">e</text>
<text transform="translate(1136.70,512.46) scale(1.226,0.900)" x="-5.26">(</text>
<text transform="translate(1153.70,516.71) scale(0.891,1.000)" x="-7.76">3</text>
<text transform="translate(1170.70,516.71) scale(0.858,1.000)" x="-7.92">5</text>
<text transform="translate(1187.70,516.71) scale(0.868,1.000)" x="-7.62">0</text>
<text transform="translate(1204.70,516.71) scale(0.863,1.000)" x="-7.68">4</text>
<text transform="translate(1221.70,512.46) scale(1.328,0.900)" x="-4.90">)</text>
</g>
<line x1="805.70" y1="571.88" x2="977.50" y2="571.88" stroke="#ffff00" stroke-width="4.20" stroke-linecap="butt"/>
<line x1="1147.50" y1="571.88" x2="1650.20" y2="571.88" stroke="#ffff00" stroke-width="4.20" stroke-linecap="round"/>
<line x1="977.50" y1="571.88" x2="1147.50" y2="571.88" stroke="#00ff00" stroke-width="3.20" stroke-linecap="butt"/>
<rect x="1020.00" y="559.48" width="83.00" height="27.00" fill="#00ff00"/>
<polyline points="1009.50,554.88 978.70,571.88 1011.00,589.88" fill="none" stroke="#00ff00" stroke-width="3.60" stroke-linecap="butt" stroke-linejoin="round"/>
<polyline points="1113.50,554.88 1146.30,571.88 1112.00,589.88" fill="none" stroke="#00ff00" stroke-width="3.60" stroke-linecap="butt" stroke-linejoin="round"/>
<line x1="1378.40" y1="524.60" x2="1378.40" y2="573.38" stroke="#00ff00" stroke-width="3.30" stroke-linecap="butt"/>
<line x1="1378.40" y1="524.60" x2="1385.30" y2="496.20" stroke="#00ff00" stroke-width="3.50" stroke-linecap="butt"/>
<line x1="1378.40" y1="524.60" x2="1351.40" y2="537.10" stroke="#00ff00" stroke-width="3.50" stroke-linecap="butt"/>
<line x1="1378.40" y1="524.60" x2="1403.90" y2="542.60" stroke="#00ff00" stroke-width="3.50" stroke-linecap="butt"/>
<ellipse cx="1378.40" cy="524.60" rx="8.2" ry="7.1" fill="#00ff00"/>
<line x1="1496.40" y1="526.10" x2="1496.40" y2="573.38" stroke="#00ff00" stroke-width="3.30" stroke-linecap="butt"/>
<line x1="1496.40" y1="526.10" x2="1503.30" y2="497.70" stroke="#00ff00" stroke-width="3.50" stroke-linecap="butt"/>
<line x1="1496.40" y1="526.10" x2="1469.40" y2="538.60" stroke="#00ff00" stroke-width="3.50" stroke-linecap="butt"/>
<line x1="1496.40" y1="526.10" x2="1521.90" y2="544.10" stroke="#00ff00" stroke-width="3.50" stroke-linecap="butt"/>
<ellipse cx="1496.40" cy="526.10" rx="8.2" ry="7.1" fill="#00ff00"/>
<line x1="1613.20" y1="525.40" x2="1613.20" y2="573.38" stroke="#00ff00" stroke-width="3.30" stroke-linecap="butt"/>
<line x1="1613.20" y1="525.40" x2="1620.10" y2="497.00" stroke="#00ff00" stroke-width="3.50" stroke-linecap="butt"/>
<line x1="1613.20" y1="525.40" x2="1586.20" y2="537.90" stroke="#00ff00" stroke-width="3.50" stroke-linecap="butt"/>
<line x1="1613.20" y1="525.40" x2="1638.70" y2="543.40" stroke="#00ff00" stroke-width="3.50" stroke-linecap="butt"/>
<ellipse cx="1613.20" cy="525.40" rx="8.2" ry="7.1" fill="#00ff00"/>
<g font-family="'Liberation Serif', serif" font-weight="normal" font-size="32.00" fill="#ffffff">
<text transform="translate(848.80,549.38) scale(0.821,1.000)" x="-8.72">P</text>
<text transform="translate(863.80,549.38) scale(0.860,1.000)" x="-9.04">=</text>
</g>
<g font-family="'Liberation Serif', serif" font-weight="normal" font-size="30.70" fill="#00ff00" stroke="#000" stroke-width="0.15">
<text transform="translate(886.75,547.48) scale(0.882,1.000)" x="-7.67">0</text>
<text transform="translate(901.85,547.48) scale(0.882,1.000)" x="-7.67">0</text>
<text transform="translate(916.95,547.48) scale(0.882,1.000)" x="-7.67">0</text>
<text transform="translate(928.58,547.48) scale(1.000,1.000)" x="-3.84">.</text>
<text transform="translate(947.15,547.48) scale(0.882,1.000)" x="-7.67">0</text>
<text transform="translate(962.25,547.48) scale(0.882,1.000)" x="-7.67">0</text>
<text transform="translate(977.35,547.48) scale(0.882,1.000)" x="-7.67">0</text>
</g>
<g font-family="'Liberation Serif', serif" font-weight="normal" font-size="32.00" fill="#ffffff" stroke="#ffffff" stroke-width="0.30">
<text transform="translate(1044.35,549.38) scale(0.526,1.000)" x="-14.22">M</text>
<text transform="translate(1059.05,549.38) scale(0.482,1.000)" x="-15.09">W</text>
</g>
<g font-family="'Liberation Serif', serif" font-weight="normal" font-size="29.40" fill="#ffffff">
<text transform="translate(1148.90,547.98) scale(0.615,1.000)" x="-10.97">Q</text>
</g>
<g font-family="'Liberation Serif', serif" font-weight="normal" font-size="31.50" fill="#ffffff">
<text transform="translate(1163.80,549.28) scale(0.805,1.000)" x="-8.90">=</text>
</g>
<g font-family="'Liberation Serif', serif" font-weight="normal" font-size="30.70" fill="#00ff00" stroke="#000" stroke-width="0.15">
<text transform="translate(1160.05,546.78) scale(0.882,1.000)" x="-7.67">0</text>
<text transform="translate(1175.15,546.78) scale(0.882,1.000)" x="-7.67">0</text>
<text transform="translate(1190.25,546.78) scale(0.882,1.000)" x="-7.67">0</text>
<text transform="translate(1201.88,546.78) scale(1.000,1.000)" x="-3.84">.</text>
<text transform="translate(1220.45,546.78) scale(0.882,1.000)" x="-7.67">0</text>
<text transform="translate(1235.55,546.78) scale(0.882,1.000)" x="-7.67">0</text>
<text transform="translate(1250.65,546.78) scale(0.882,1.000)" x="-7.67">0</text>
</g>
<g font-family="'Liberation Serif', serif" font-weight="normal" font-size="32.00" fill="#ffffff" stroke="#ffffff" stroke-width="0.30">
<text transform="translate(1344.50,549.28) scale(0.557,1.000)" x="-14.22">M</text>
<text transform="translate(1359.30,549.28) scale(0.639,1.000)" x="-11.55">V</text>
</g>
<g font-family="'Liberation Serif', serif" font-weight="normal" font-size="32.00" fill="#ffffff" stroke="#000" stroke-width="0.25">
<text transform="translate(1374.10,549.28) scale(0.997,1.000)" x="-7.45">a</text>
<text transform="translate(1388.90,549.28) scale(1.377,1.000)" x="-5.51">r</text>
</g>
<g font-family="'Liberation Serif', serif" font-weight="normal" font-size="30.50" fill="#ffff00" stroke="#ffff00" stroke-width="0.30">
<text transform="translate(983.70,619.58) scale(1.025,1.000)" x="-7.62">#</text>
<text transform="translate(1000.70,619.58) scale(0.868,1.000)" x="-7.62">0</text>
<text transform="translate(1017.70,619.58) scale(0.858,1.000)" x="-7.92">5</text>
<text transform="translate(1051.70,619.58) scale(0.911,1.000)" x="-8.84">L</text>
<text transform="translate(1068.70,619.58) scale(1.558,1.000)" x="-4.27">i</text>
<text transform="translate(1085.70,619.58) scale(0.852,1.000)" x="-7.74">n</text>
<text transform="translate(1102.70,619.58) scale(1.063,1.000)" x="-6.84">e</text>
<text transform="translate(1136.70,615.33) scale(1.226,0.900)" x="-5.26">(</text>
<text transform="translate(1153.70,619.58) scale(0.891,1.000)" x="-7.76">3</text>
<text transform="translate(1170.70,619.58) scale(0.858,1.000)" x="-7.92">5</text>
<text transform="translate(1187.70,619.58) scale(0.868,1.000)" x="-7.62">0</text>
<text transform="translate(1204.70,619.58) scale(0.858,1.000)" x="-7.92">5</text>
<text transform="translate(1221.70,615.33) scale(1.328,0.900)" x="-4.90">)</text>
</g>
<line x1="805.70" y1="674.75" x2="977.50" y2="674.75" stroke="#ffff00" stroke-width="4.20" stroke-linecap="butt"/>
<line x1="1147.50" y1="674.75" x2="1650.20" y2="674.75" stroke="#ffff00" stroke-width="4.20" stroke-linecap="round"/>
<line x1="977.50" y1="674.75" x2="1147.50" y2="674.75" stroke="#00ff00" stroke-width="3.20" stroke-linecap="butt"/>
<rect x="1020.00" y="662.35" width="83.00" height="27.00" fill="#00ff00"/>
<polyline points="1009.50,657.75 978.70,674.75 1011.00,692.75" fill="none" stroke="#00ff00" stroke-width="3.60" stroke-linecap="butt" stroke-linejoin="round"/>
<polyline points="1113.50,657.75 1146.30,674.75 1112.00,692.75" fill="none" stroke="#00ff00" stroke-width="3.60" stroke-linecap="butt" stroke-linejoin="round"/>
<line x1="1378.40" y1="627.00" x2="1378.40" y2="676.25" stroke="#00ff00" stroke-width="3.30" stroke-linecap="butt"/>
<line x1="1378.40" y1="627.00" x2="1385.30" y2="598.60" stroke="#00ff00" stroke-width="3.50" stroke-linecap="butt"/>
<line x1="1378.40" y1="627.00" x2="1351.40" y2="639.50" stroke="#00ff00" stroke-width="3.50" stroke-linecap="butt"/>
<line x1="1378.40" y1="627.00" x2="1403.90" y2="645.00" stroke="#00ff00" stroke-width="3.50" stroke-linecap="butt"/>
<ellipse cx="1378.40" cy="627.00" rx="8.2" ry="7.1" fill="#00ff00"/>
<line x1="1496.40" y1="628.50" x2="1496.40" y2="676.25" stroke="#00ff00" stroke-width="3.30" stroke-linecap="butt"/>
<line x1="1496.40" y1="628.50" x2="1503.30" y2="600.10" stroke="#00ff00" stroke-width="3.50" stroke-linecap="butt"/>
<line x1="1496.40" y1="628.50" x2="1469.40" y2="641.00" stroke="#00ff00" stroke-width="3.50" stroke-linecap="butt"/>
<line x1="1496.40" y1="628.50" x2="1521.90" y2="646.50" stroke="#00ff00" stroke-width="3.50" stroke-linecap="butt"/>
<ellipse cx="1496.40" cy="628.50" rx="8.2" ry="7.1" fill="#00ff00"/>
<line x1="1613.20" y1="627.80" x2="1613.20" y2="676.25" stroke="#00ff00" stroke-width="3.30" stroke-linecap="butt"/>
<line x1="1613.20" y1="627.80" x2="1620.10" y2="599.40" stroke="#00ff00" stroke-width="3.50" stroke-linecap="butt"/>
<line x1="1613.20" y1="627.80" x2="1586.20" y2="640.30" stroke="#00ff00" stroke-width="3.50" stroke-linecap="butt"/>
<line x1="1613.20" y1="627.80" x2="1638.70" y2="645.80" stroke="#00ff00" stroke-width="3.50" stroke-linecap="butt"/>
<ellipse cx="1613.20" cy="627.80" rx="8.2" ry="7.1" fill="#00ff00"/>
<g font-family="'Liberation Serif', serif" font-weight="normal" font-size="32.00" fill="#ffffff">
<text transform="translate(848.80,652.25) scale(0.821,1.000)" x="-8.72">P</text>
<text transform="translate(863.80,652.25) scale(0.860,1.000)" x="-9.04">=</text>
</g>
<g font-family="'Liberation Serif', serif" font-weight="normal" font-size="30.70" fill="#00ff00" stroke="#000" stroke-width="0.15">
<text transform="translate(886.75,650.35) scale(0.882,1.000)" x="-7.67">0</text>
<text transform="translate(901.85,650.35) scale(0.882,1.000)" x="-7.67">0</text>
<text transform="translate(916.95,650.35) scale(0.882,1.000)" x="-7.67">0</text>
<text transform="translate(928.58,650.35) scale(1.000,1.000)" x="-3.84">.</text>
<text transform="translate(947.15,650.35) scale(0.882,1.000)" x="-7.67">0</text>
<text transform="translate(962.25,650.35) scale(0.882,1.000)" x="-7.67">0</text>
<text transform="translate(977.35,650.35) scale(0.882,1.000)" x="-7.67">0</text>
</g>
<g font-family="'Liberation Serif', serif" font-weight="normal" font-size="32.00" fill="#ffffff" stroke="#ffffff" stroke-width="0.30">
<text transform="translate(1044.35,652.25) scale(0.526,1.000)" x="-14.22">M</text>
<text transform="translate(1059.05,652.25) scale(0.482,1.000)" x="-15.09">W</text>
</g>
<g font-family="'Liberation Serif', serif" font-weight="normal" font-size="29.40" fill="#ffffff">
<text transform="translate(1148.90,650.85) scale(0.615,1.000)" x="-10.97">Q</text>
</g>
<g font-family="'Liberation Serif', serif" font-weight="normal" font-size="31.50" fill="#ffffff">
<text transform="translate(1163.80,652.15) scale(0.805,1.000)" x="-8.90">=</text>
</g>
<g font-family="'Liberation Serif', serif" font-weight="normal" font-size="30.70" fill="#00ff00" stroke="#000" stroke-width="0.15">
<text transform="translate(1160.05,649.65) scale(0.882,1.000)" x="-7.67">0</text>
<text transform="translate(1175.15,649.65) scale(0.882,1.000)" x="-7.67">0</text>
<text transform="translate(1190.25,649.65) scale(0.882,1.000)" x="-7.67">0</text>
<text transform="translate(1201.88,649.65) scale(1.000,1.000)" x="-3.84">.</text>
<text transform="translate(1220.45,649.65) scale(0.882,1.000)" x="-7.67">0</text>
<text transform="translate(1235.55,649.65) scale(0.882,1.000)" x="-7.67">0</text>
<text transform="translate(1250.65,649.65) scale(0.882,1.000)" x="-7.67">0</text>
</g>
<g font-family="'Liberation Serif', serif" font-weight="normal" font-size="32.00" fill="#ffffff" stroke="#ffffff" stroke-width="0.30">
<text transform="translate(1344.50,652.15) scale(0.557,1.000)" x="-14.22">M</text>
<text transform="translate(1359.30,652.15) scale(0.639,1.000)" x="-11.55">V</text>
</g>
<g font-family="'Liberation Serif', serif" font-weight="normal" font-size="32.00" fill="#ffffff" stroke="#000" stroke-width="0.25">
<text transform="translate(1374.10,652.15) scale(0.997,1.000)" x="-7.45">a</text>
<text transform="translate(1388.90,652.15) scale(1.377,1.000)" x="-5.51">r</text>
</g>
<g font-family="'Liberation Serif', serif" font-weight="normal" font-size="30.50" fill="#ffff00" stroke="#ffff00" stroke-width="0.30">
<text transform="translate(983.70,722.45) scale(1.025,1.000)" x="-7.62">#</text>
<text transform="translate(1000.70,722.45) scale(0.868,1.000)" x="-7.62">0</text>
<text transform="translate(1017.70,722.45) scale(0.939,1.000)" x="-7.83">6</text>
<text transform="translate(1051.70,722.45) scale(0.911,1.000)" x="-8.84">L</text>
<text transform="translate(1068.70,722.45) scale(1.558,1.000)" x="-4.27">i</text>
<text transform="translate(1085.70,722.45) scale(0.852,1.000)" x="-7.74">n</text>
<text transform="translate(1102.70,722.45) scale(1.063,1.000)" x="-6.84">e</text>
<text transform="translate(1136.70,718.20) scale(1.226,0.900)" x="-5.26">(</text>
<text transform="translate(1153.70,722.45) scale(0.891,1.000)" x="-7.76">3</text>
<text transform="translate(1170.70,722.45) scale(0.858,1.000)" x="-7.92">5</text>
<text transform="translate(1187.70,722.45) scale(0.868,1.000)" x="-7.62">0</text>
<text transform="translate(1204.70,722.45) scale(0.939,1.000)" x="-7.83">6</text>
<text transform="translate(1221.70,718.20) scale(1.328,0.900)" x="-4.90">)</text>
</g>
<line x1="805.70" y1="777.62" x2="977.50" y2="777.62" stroke="#ffff00" stroke-width="4.20" stroke-linecap="butt"/>
<line x1="1147.50" y1="777.62" x2="1650.20" y2="777.62" stroke="#ffff00" stroke-width="4.20" stroke-linecap="round"/>
<line x1="977.50" y1="777.62" x2="1147.50" y2="777.62" stroke="#00ff00" stroke-width="3.20" stroke-linecap="butt"/>
<rect x="1020.00" y="765.22" width="83.00" height="27.00" fill="#00ff00"/>
<polyline points="1009.50,760.62 978.70,777.62 1011.00,795.62" fill="none" stroke="#00ff00" stroke-width="3.60" stroke-linecap="butt" stroke-linejoin="round"/>
<polyline points="1113.50,760.62 1146.30,777.62 1112.00,795.62" fill="none" stroke="#00ff00" stroke-width="3.60" stroke-linecap="butt" stroke-linejoin="round"/>
<g font-family="'Liberation Serif', serif" font-weight="normal" font-size="29.40" fill="#ffffff">
<text transform="translate(1148.90,753.72) scale(0.615,1.000)" x="-10.97">Q</text>
</g>
<g font-family="'Liberation Serif', serif" font-weight="normal" font-size="31.50" fill="#ffffff">
<text transform="translate(1163.80,755.02) scale(0.805,1.000)" x="-8.90">=</text>
</g>
<g font-family="'Liberation Serif', serif" font-weight="normal" font-size="30.70" fill="#00ff00" stroke="#000" stroke-width="0.15">
<text transform="translate(1160.05,752.52) scale(0.882,1.000)" x="-7.67">0</text>
<text transform="translate(1175.15,752.52) scale(0.882,1.000)" x="-7.67">0</text>
<text transform="translate(1190.25,752.52) scale(0.882,1.000)" x="-7.67">0</text>
<text transform="translate(1201.88,752.52) scale(1.000,1.000)" x="-3.84">.</text>
<text transform="translate(1220.45,752.52) scale(0.882,1.000)" x="-7.67">0</text>
<text transform="translate(1235.55,752.52) scale(0.882,1.000)" x="-7.67">0</text>
<text transform="translate(1250.65,752.52) scale(0.882,1.000)" x="-7.67">0</text>
</g>
<g font-family="'Liberation Serif', serif" font-weight="normal" font-size="32.00" fill="#ffffff" stroke="#ffffff" stroke-width="0.30">
<text transform="translate(1344.50,755.02) scale(0.557,1.000)" x="-14.22">M</text>
<text transform="translate(1359.30,755.02) scale(0.639,1.000)" x="-11.55">V</text>
</g>
<g font-family="'Liberation Serif', serif" font-weight="normal" font-size="32.00" fill="#ffffff" stroke="#000" stroke-width="0.25">
<text transform="translate(1374.10,755.02) scale(0.997,1.000)" x="-7.45">a</text>
<text transform="translate(1388.90,755.02) scale(1.377,1.000)" x="-5.51">r</text>
</g>
<line x1="805.70" y1="880.50" x2="977.50" y2="880.50" stroke="#ffff00" stroke-width="4.20" stroke-linecap="butt"/>
<line x1="1147.50" y1="880.50" x2="1650.20" y2="880.50" stroke="#ffff00" stroke-width="4.20" stroke-linecap="round"/>
<line x1="977.50" y1="880.50" x2="1147.50" y2="880.50" stroke="#00ff00" stroke-width="3.20" stroke-linecap="butt"/>
<rect x="1020.00" y="868.10" width="83.00" height="27.00" fill="#00ff00"/>
<polyline points="1009.50,863.50 978.70,880.50 1011.00,898.50" fill="none" stroke="#00ff00" stroke-width="3.60" stroke-linecap="butt" stroke-linejoin="round"/>
<polyline points="1113.50,863.50 1146.30,880.50 1112.00,898.50" fill="none" stroke="#00ff00" stroke-width="3.60" stroke-linecap="butt" stroke-linejoin="round"/>
<g font-family="'Liberation Serif', serif" font-weight="normal" font-size="29.40" fill="#ffffff">
<text transform="translate(1148.90,856.60) scale(0.615,1.000)" x="-10.97">Q</text>
</g>
<g font-family="'Liberation Serif', serif" font-weight="normal" font-size="31.50" fill="#ffffff">
<text transform="translate(1163.80,857.90) scale(0.805,1.000)" x="-8.90">=</text>
</g>
<g font-family="'Liberation Serif', serif" font-weight="normal" font-size="30.70" fill="#00ff00" stroke="#000" stroke-width="0.15">
<text transform="translate(1160.05,855.40) scale(0.882,1.000)" x="-7.67">0</text>
<text transform="translate(1175.15,855.40) scale(0.882,1.000)" x="-7.67">0</text>
<text transform="translate(1190.25,855.40) scale(0.882,1.000)" x="-7.67">0</text>
<text transform="translate(1201.88,855.40) scale(1.000,1.000)" x="-3.84">.</text>
<text transform="translate(1220.45,855.40) scale(0.882,1.000)" x="-7.67">0</text>
<text transform="translate(1235.55,855.40) scale(0.882,1.000)" x="-7.67">0</text>
<text transform="translate(1250.65,855.40) scale(0.882,1.000)" x="-7.67">0</text>
</g>
<g font-family="'Liberation Serif', serif" font-weight="normal" font-size="32.00" fill="#ffffff" stroke="#ffffff" stroke-width="0.30">
<text transform="translate(1344.50,857.90) scale(0.557,1.000)" x="-14.22">M</text>
<text transform="translate(1359.30,857.90) scale(0.639,1.000)" x="-11.55">V</text>
</g>
<g font-family="'Liberation Serif', serif" font-weight="normal" font-size="32.00" fill="#ffffff" stroke="#000" stroke-width="0.25">
<text transform="translate(1374.10,857.90) scale(0.997,1.000)" x="-7.45">a</text>
<text transform="translate(1388.90,857.90) scale(1.377,1.000)" x="-5.51">r</text>
</g>
<g font-family="'Liberation Serif', serif" font-weight="normal" font-size="32.60" fill="#ffff00" stroke="#ffff00" stroke-width="0.30">
<text transform="translate(997.95,827.10) scale(0.976,1.000)" x="-9.14">S</text>
<text transform="translate(1014.65,827.10) scale(0.684,1.000)" x="-11.77">V</text>
<text transform="translate(1031.35,827.10) scale(0.763,1.000)" x="-10.64">C</text>
</g>
<g font-family="'Liberation Serif', serif" font-weight="normal" font-size="30.50" fill="#ffff00" stroke="#ffff00" stroke-width="0.30">
<text transform="translate(1048.05,827.10) scale(1.201,1.000)" x="-8.05">1</text>
<text transform="translate(1064.75,822.85) scale(1.226,0.900)" x="-5.26">(</text>
<text transform="translate(1081.45,827.10) scale(0.954,1.000)" x="-7.76">3</text>
<text transform="translate(1098.15,827.10) scale(0.979,1.000)" x="-7.92">5</text>
<text transform="translate(1114.85,827.10) scale(0.983,1.000)" x="-7.45">2</text>
<text transform="translate(1131.55,827.10) scale(1.201,1.000)" x="-8.05">1</text>
<text transform="translate(1148.25,822.85) scale(1.328,0.900)" x="-4.90">)</text>
</g>
<g font-family="'Liberation Serif', serif" font-weight="normal" font-size="32.60" fill="#ffff00" stroke="#ffff00" stroke-width="0.30">
<text transform="translate(997.95,927.90) scale(0.976,1.000)" x="-9.14">S</text>
<text transform="translate(1014.65,927.90) scale(0.684,1.000)" x="-11.77">V</text>
<text transform="translate(1031.35,927.90) scale(0.763,1.000)" x="-10.64">C</text>
</g>
<g font-family="'Liberation Serif', serif" font-weight="normal" font-size="30.50" fill="#ffff00" stroke="#ffff00" stroke-width="0.30">
<text transform="translate(1048.05,927.90) scale(0.983,1.000)" x="-7.45">2</text>
<text transform="translate(1064.75,923.65) scale(1.226,0.900)" x="-5.26">(</text>
<text transform="translate(1081.45,927.90) scale(0.954,1.000)" x="-7.76">3</text>
<text transform="translate(1098.15,927.90) scale(0.979,1.000)" x="-7.92">5</text>
<text transform="translate(1114.85,927.90) scale(0.983,1.000)" x="-7.45">2</text>
<text transform="translate(1131.55,927.90) scale(0.983,1.000)" x="-7.45">2</text>
<text transform="translate(1148.25,923.65) scale(1.328,0.900)" x="-4.90">)</text>
</g>
<line x1="513.00" y1="575.30" x2="556.70" y2="575.30" stroke="#ffff00" stroke-width="4.20" stroke-linecap="butt"/>
<line x1="729.00" y1="575.40" x2="805.70" y2="577.80" stroke="#ffff00" stroke-width="4.20" stroke-linecap="butt"/>
<line x1="556.70" y1="575.30" x2="729.20" y2="575.30" stroke="#00ff00" stroke-width="3.20" stroke-linecap="butt"/>
<rect x="600.30" y="562.20" width="84.00" height="29.00" fill="#00ff00"/>
<polyline points="588.70,558.30 557.90,575.30 590.20,593.30" fill="none" stroke="#00ff00" stroke-width="3.60" stroke-linecap="butt" stroke-linejoin="round"/>
<polyline points="695.20,558.30 728.00,575.30 693.70,593.30" fill="none" stroke="#00ff00" stroke-width="3.60" stroke-linecap="butt" stroke-linejoin="round"/>
<g font-family="'Liberation Serif', serif" font-weight="normal" font-size="30.50" fill="#ffff00" stroke="#ffff00" stroke-width="0.30">
<text transform="translate(608.00,623.05) scale(1.226,0.900)" x="-5.26">(</text>
<text transform="translate(625.60,627.30) scale(0.922,1.000)" x="-7.76">3</text>
<text transform="translate(643.20,627.30) scale(0.917,1.000)" x="-7.92">5</text>
<text transform="translate(660.80,627.30) scale(0.917,1.000)" x="-7.92">5</text>
<text transform="translate(678.40,627.30) scale(1.201,1.000)" x="-8.05">1</text>
<text transform="translate(696.00,623.05) scale(1.328,0.900)" x="-4.90">)</text>
</g>
<circle cx="478.1" cy="577.4" r="34.2" fill="none" stroke="#ffff00" stroke-width="3.4"/>
<polyline points="458.60,570.00 498.60,569.50 479.00,590.50 458.60,570.00" fill="none" stroke="#ffff00" stroke-width="3.40" stroke-linecap="round" stroke-linejoin="round"/>
<circle cx="420" cy="577" r="34.6" fill="none" stroke="#800080" stroke-width="3.2"/>
<polyline points="403.30,561.40 419.50,576.70 434.80,561.90" fill="none" stroke="#800080" stroke-width="3.30" stroke-linecap="butt" stroke-linejoin="miter"/>
<line x1="419.50" y1="576.70" x2="419.50" y2="595.20" stroke="#800080" stroke-width="3.30" stroke-linecap="butt"/>
<polyline points="222.50,415.60 302.40,415.60 302.40,848.00" fill="none" stroke="#800080" stroke-width="4.60" stroke-linecap="round" stroke-linejoin="round"/>
<line x1="302.40" y1="575.30" x2="385.50" y2="575.30" stroke="#800080" stroke-width="4.80" stroke-linecap="butt"/>
<polyline points="91.20,545.00 91.20,623.50 302.40,623.50" fill="none" stroke="#800080" stroke-width="4.80" stroke-linecap="butt" stroke-linejoin="miter"/>
<line x1="91.40" y1="242.50" x2="91.40" y2="362.00" stroke="#800080" stroke-width="5.00" stroke-linecap="round"/>
<polyline points="81.10,267.90 91.40,242.50 100.70,268.60" fill="none" stroke="#800080" stroke-width="5.00" stroke-linecap="round" stroke-linejoin="round"/>
<g font-family="'Liberation Sans', sans-serif" font-weight="normal" font-size="51.50" fill="#800080" stroke="#000" stroke-width="0.50">
<text transform="translate(210.20,395.20) scale(0.541,1.000)" x="-14.32">2</text>
<text transform="translate(223.12,395.20) scale(0.541,1.000)" x="-14.32">2</text>
<text transform="translate(236.04,395.20) scale(0.459,1.000)" x="-14.32">0</text>
<text transform="translate(261.88,395.20) scale(0.460,1.000)" x="-19.00">K</text>
<text transform="translate(274.80,395.20) scale(0.366,1.000)" x="-17.18">V</text>
<text transform="translate(300.64,395.20) scale(0.390,1.000)" x="-17.93">B</text>
<text transform="translate(313.56,395.20) scale(0.466,1.000)" x="-14.28">u</text>
<text transform="translate(326.48,395.20) scale(0.419,1.000)" x="-12.66">s</text>
<text transform="translate(339.40,395.20) scale(0.462,1.000)" x="-14.90">b</text>
<text transform="translate(352.32,395.20) scale(0.416,1.000)" x="-15.41">a</text>
<text transform="translate(365.24,395.20) scale(0.614,1.000)" x="-9.86">r</text>
</g>
<line x1="91.20" y1="362.00" x2="91.20" y2="545.00" stroke="#00ff00" stroke-width="3.20" stroke-linecap="butt"/>
<rect x="78.4" y="407.4" width="27.2" height="91.6" fill="#00ff00"/>
<polyline points="75.00,394.00 91.20,363.50 107.60,396.00" fill="none" stroke="#00ff00" stroke-width="3.60" stroke-linecap="butt" stroke-linejoin="round"/>
<polyline points="75.00,512.00 91.20,543.50 107.60,510.00" fill="none" stroke="#00ff00" stroke-width="3.60" stroke-linecap="butt" stroke-linejoin="round"/>
<g font-family="'Liberation Serif', serif" font-weight="normal" font-size="30.50" fill="#800080">
<text transform="translate(129.50,468.35) scale(1.226,0.900)" x="-5.26">(</text>
<text transform="translate(146.90,472.60) scale(1.138,1.000)" x="-7.45">2</text>
<text transform="translate(164.30,472.60) scale(1.138,1.000)" x="-7.45">2</text>
<text transform="translate(181.70,472.60) scale(0.991,1.000)" x="-7.92">5</text>
<text transform="translate(199.10,472.60) scale(1.201,1.000)" x="-8.05">1</text>
<text transform="translate(216.50,468.35) scale(1.328,0.900)" x="-4.90">)</text>
</g>
<g font-family="'Liberation Serif', serif" font-weight="normal" font-size="31.00" fill="#ffffff">
<text transform="translate(55.25,673.00) scale(0.847,1.000)" x="-8.45">P</text>
</g>
<g font-family="'Liberation Serif', serif" font-weight="normal" font-size="31.00" fill="#ffffff">
<text transform="translate(69.95,673.00) scale(0.846,1.000)" x="-8.76">=</text>
</g>
<g font-family="'Liberation Serif', serif" font-weight="normal" font-size="30.90" fill="#00ff00" stroke="#000" stroke-width="0.20">
<text transform="translate(99.30,672.60) scale(0.870,1.000)" x="-7.72">0</text>
<text transform="translate(114.30,672.60) scale(0.870,1.000)" x="-7.72">0</text>
<text transform="translate(129.30,672.60) scale(0.870,1.000)" x="-7.72">0</text>
<text transform="translate(140.85,672.60) scale(1.000,1.000)" x="-3.86">.</text>
<text transform="translate(159.30,672.60) scale(0.870,1.000)" x="-7.72">0</text>
<text transform="translate(174.30,672.60) scale(0.870,1.000)" x="-7.72">0</text>
<text transform="translate(189.30,672.60) scale(0.870,1.000)" x="-7.72">0</text>
</g>
<g font-family="'Liberation Serif', serif" font-weight="normal" font-size="31.00" fill="#ffffff" stroke="#ffffff" stroke-width="0.60">
<text transform="translate(223.60,673.00) scale(0.543,1.000)" x="-13.77">M</text>
<text transform="translate(238.00,673.00) scale(0.497,1.000)" x="-14.61">W</text>
</g>
<g font-family="'Liberation Serif', serif" font-weight="normal" font-size="31.00" fill="#ffffff">
<text transform="translate(55.25,712.00) scale(0.607,1.000)" x="-11.56">Q</text>
</g>
<g font-family="'Liberation Serif', serif" font-weight="normal" font-size="31.00" fill="#ffffff">
<text transform="translate(69.95,712.80) scale(0.846,1.000)" x="-8.76">=</text>
</g>
<g font-family="'Liberation Serif', serif" font-weight="normal" font-size="30.90" fill="#00ff00" stroke="#000" stroke-width="0.20">
<text transform="translate(98.60,711.40) scale(0.870,1.000)" x="-7.72">0</text>
<text transform="translate(113.60,711.40) scale(0.870,1.000)" x="-7.72">0</text>
<text transform="translate(128.60,711.40) scale(0.870,1.000)" x="-7.72">0</text>
<text transform="translate(140.15,711.40) scale(1.000,1.000)" x="-3.86">.</text>
<text transform="translate(158.60,711.40) scale(0.870,1.000)" x="-7.72">0</text>
<text transform="translate(173.60,711.40) scale(0.870,1.000)" x="-7.72">0</text>
<text transform="translate(188.60,711.40) scale(0.870,1.000)" x="-7.72">0</text>
</g>
<g font-family="'Liberation Serif', serif" font-weight="normal" font-size="31.00" fill="#ffffff" stroke="#ffffff" stroke-width="0.60">
<text transform="translate(222.70,714.00) scale(0.524,1.000)" x="-13.77">M</text>
<text transform="translate(236.70,714.00) scale(0.622,1.000)" x="-11.19">V</text>
</g>
<g font-family="'Liberation Serif', serif" font-weight="normal" font-size="31.00" fill="#ffffff" stroke="#ffffff" stroke-width="0.45">
<text transform="translate(250.70,714.00) scale(0.980,1.000)" x="-7.21">a</text>
<text transform="translate(264.70,714.00) scale(1.326,1.000)" x="-5.34">r</text>
</g>
<g font-family="'Liberation Serif', serif" font-weight="normal" font-size="31.00" fill="#ffffff">
<text transform="translate(518.45,673.00) scale(0.847,1.000)" x="-8.45">P</text>
</g>
<g font-family="'Liberation Serif', serif" font-weight="normal" font-size="31.00" fill="#ffffff">
<text transform="translate(533.15,673.00) scale(0.846,1.000)" x="-8.76">=</text>
</g>
<g font-family="'Liberation Serif', serif" font-weight="normal" font-size="30.90" fill="#00ff00" stroke="#000" stroke-width="0.20">
<text transform="translate(575.00,672.20) scale(0.904,1.000)" x="-8.73">−</text>
<text transform="translate(590.00,672.20) scale(0.870,1.000)" x="-7.72">0</text>
<text transform="translate(601.55,672.20) scale(1.000,1.000)" x="-3.86">.</text>
<text transform="translate(620.00,672.20) scale(0.870,1.000)" x="-7.72">0</text>
<text transform="translate(635.00,672.20) scale(0.870,1.000)" x="-7.72">0</text>
<text transform="translate(650.00,672.20) scale(0.870,1.000)" x="-7.72">0</text>
</g>
<g font-family="'Liberation Serif', serif" font-weight="normal" font-size="31.00" fill="#ffffff" stroke="#ffffff" stroke-width="0.60">
<text transform="translate(686.50,673.00) scale(0.543,1.000)" x="-13.77">M</text>
<text transform="translate(700.90,673.00) scale(0.497,1.000)" x="-14.61">W</text>
</g>
<g font-family="'Liberation Serif', serif" font-weight="normal" font-size="31.00" fill="#ffffff">
<text transform="translate(518.45,712.00) scale(0.607,1.000)" x="-11.56">Q</text>
</g>
<g font-family="'Liberation Serif', serif" font-weight="normal" font-size="31.00" fill="#ffffff">
<text transform="translate(533.15,712.80) scale(0.846,1.000)" x="-8.76">=</text>
</g>
<g font-family="'Liberation Serif', serif" font-weight="normal" font-size="30.90" fill="#00ff00" stroke="#000" stroke-width="0.20">
<text transform="translate(574.30,711.20) scale(0.904,1.000)" x="-8.73">−</text>
<text transform="translate(589.30,711.20) scale(0.870,1.000)" x="-7.72">0</text>
<text transform="translate(600.85,711.20) scale(1.000,1.000)" x="-3.86">.</text>
<text transform="translate(619.30,711.20) scale(0.870,1.000)" x="-7.72">0</text>
<text transform="translate(634.30,711.20) scale(0.870,1.000)" x="-7.72">0</text>
<text transform="translate(649.30,711.20) scale(0.870,1.000)" x="-7.72">0</text>
</g>
<g font-family="'Liberation Serif', serif" font-weight="normal" font-size="31.00" fill="#ffffff" stroke="#ffffff" stroke-width="0.60">
<text transform="translate(685.60,714.00) scale(0.524,1.000)" x="-13.77">M</text>
<text transform="translate(699.60,714.00) scale(0.622,1.000)" x="-11.19">V</text>
</g>
<g font-family="'Liberation Serif', serif" font-weight="normal" font-size="31.00" fill="#ffffff" stroke="#ffffff" stroke-width="0.45">
<text transform="translate(713.60,714.00) scale(0.980,1.000)" x="-7.21">a</text>
<text transform="translate(727.60,714.00) scale(1.326,1.000)" x="-5.34">r</text>
</g>
</svg>
<div id="bot1"></div><div id="bot2"></div>
<div id="blackbox"></div>
<div class="btn" style="left:41.2px;top:978.1px"></div>
<div class="btn" style="left:101.3px;top:978.9px"></div>
<div class="btn" style="left:164.0px;top:980.0px"></div>
<div class="btn" style="left:230.2px;top:980.0px"></div>
<div class="btn" style="left:296.3px;top:978.9px"></div>
<div class="btn" style="left:365.0px;top:978.9px"></div>
<div class="btn blue" style="left:430.0px;top:976.9px"></div>
<div class="btn" style="left:510.0px;top:977.4px"></div>
<div class="btn" style="left:608.3px;top:977.4px"></div>
<svg class="abs" style="left:0;top:0" width="1680" height="1050" viewBox="0 0 1680 1050">
<polygon points="57.60,1001.10 61.30,999.79 60.05,1002.69 56.31,1003.54" fill="#000"/>
<polygon points="55.99,1004.16 59.74,1003.42 57.63,1008.30 53.82,1008.27" fill="#000"/>
<polygon points="53.49,1008.89 57.32,1009.04 55.67,1012.85 51.80,1012.10" fill="#000"/>
<polygon points="62.41,999.40 68.13,997.38 66.95,1001.12 61.17,1002.43" fill="#000"/>
<polygon points="60.86,1003.20 66.65,1002.06 64.66,1008.36 58.77,1008.31" fill="#000"/>
<polygon points="58.46,1009.08 64.37,1009.31 62.81,1014.23 56.83,1013.07" fill="#000"/>
<polygon points="69.24,996.98 77.40,994.10 76.31,998.98 68.07,1000.86" fill="#000"/>
<polygon points="67.78,1001.84 76.04,1000.22 74.21,1008.44 65.81,1008.37" fill="#000"/>
<polygon points="65.51,1009.35 73.93,1009.68 72.50,1016.10 63.97,1014.45" fill="#000"/>
<polygon points="56.00,999.30 59.70,997.99 58.45,1000.89 54.71,1001.74" fill="#fafafa"/>
<polygon points="54.39,1002.36 58.14,1001.62 56.03,1006.50 52.22,1006.47" fill="#fafafa"/>
<polygon points="51.89,1007.09 55.72,1007.24 54.07,1011.05 50.20,1010.30" fill="#fafafa"/>
<polygon points="60.81,997.60 66.53,995.58 65.35,999.32 59.57,1000.63" fill="#fafafa"/>
<polygon points="59.26,1001.40 65.05,1000.26 63.06,1006.56 57.17,1006.51" fill="#fafafa"/>
<polygon points="56.86,1007.28 62.77,1007.51 61.21,1012.43 55.23,1011.27" fill="#fafafa"/>
<polygon points="67.64,995.18 75.80,992.30 74.71,997.18 66.47,999.06" fill="#fafafa"/>
<polygon points="66.18,1000.04 74.44,998.42 72.61,1006.64 64.21,1006.57" fill="#fafafa"/>
<polygon points="63.91,1007.55 72.33,1007.88 70.90,1014.30 62.37,1012.65" fill="#fafafa"/>
<polygon points="117.70,1001.90 121.40,1000.59 120.15,1003.49 116.41,1004.34" fill="#000"/>
<polygon points="116.09,1004.96 119.84,1004.22 117.73,1009.10 113.92,1009.07" fill="#000"/>
<polygon points="113.59,1009.69 117.42,1009.84 115.77,1013.65 111.90,1012.90" fill="#000"/>
<polygon points="122.51,1000.20 128.23,998.18 127.05,1001.92 121.27,1003.23" fill="#000"/>
<polygon points="120.96,1004.00 126.75,1002.86 124.76,1009.16 118.87,1009.11" fill="#000"/>
<polygon points="118.56,1009.88 124.47,1010.11 122.91,1015.03 116.93,1013.87" fill="#000"/>
<polygon points="129.34,997.78 137.50,994.90 136.41,999.78 128.17,1001.66" fill="#000"/>
<polygon points="127.88,1002.64 136.14,1001.02 134.31,1009.24 125.91,1009.17" fill="#000"/>
<polygon points="125.61,1010.15 134.03,1010.48 132.60,1016.90 124.07,1015.25" fill="#000"/>
<polygon points="116.10,1000.10 119.80,998.79 118.55,1001.69 114.81,1002.54" fill="#fafafa"/>
<polygon points="114.49,1003.16 118.24,1002.42 116.13,1007.30 112.32,1007.27" fill="#fafafa"/>
<polygon points="111.99,1007.89 115.82,1008.04 114.17,1011.85 110.30,1011.10" fill="#fafafa"/>
<polygon points="120.91,998.40 126.63,996.38 125.45,1000.12 119.67,1001.43" fill="#fafafa"/>
<polygon points="119.36,1002.20 125.15,1001.06 123.16,1007.36 117.27,1007.31" fill="#fafafa"/>
<polygon points="116.96,1008.08 122.87,1008.31 121.31,1013.23 115.33,1012.07" fill="#fafafa"/>
<polygon points="127.74,995.98 135.90,993.10 134.81,997.98 126.57,999.86" fill="#fafafa"/>
<polygon points="126.28,1000.84 134.54,999.22 132.71,1007.44 124.31,1007.37" fill="#fafafa"/>
<polygon points="124.01,1008.35 132.43,1008.68 131.00,1015.10 122.47,1013.45" fill="#fafafa"/>
<polygon points="180.40,1003.00 184.10,1001.69 182.85,1004.59 179.11,1005.44" fill="#000"/>
<polygon points="178.79,1006.06 182.54,1005.32 180.43,1010.20 176.62,1010.17" fill="#000"/>
<polygon points="176.29,1010.79 180.12,1010.94 178.47,1014.75 174.60,1014.00" fill="#000"/>
<polygon points="185.21,1001.30 190.93,999.28 189.75,1003.02 183.97,1004.33" fill="#000"/>
<polygon points="183.66,1005.10 189.45,1003.96 187.46,1010.26 181.57,1010.21" fill="#000"/>
<polygon points="181.26,1010.98 187.17,1011.21 185.61,1016.13 179.63,1014.97" fill="#000"/>
<polygon points="192.04,998.88 200.20,996.00 199.11,1000.88 190.87,1002.76" fill="#000"/>
<polygon points="190.58,1003.74 198.84,1002.12 197.01,1010.34 188.61,1010.27" fill="#000"/>
<polygon points="188.31,1011.25 196.73,1011.58 195.30,1018.00 186.77,1016.35" fill="#000"/>
<polygon points="178.80,1001.20 182.50,999.89 181.25,1002.79 177.51,1003.64" fill="#fafafa"/>
<polygon points="177.19,1004.26 180.94,1003.52 178.83,1008.40 175.02,1008.37" fill="#fafafa"/>
<polygon points="174.69,1008.99 178.52,1009.14 176.87,1012.95 173.00,1012.20" fill="#fafafa"/>
<polygon points="183.61,999.50 189.33,997.48 188.15,1001.22 182.37,1002.53" fill="#fafafa"/>
<polygon points="182.06,1003.30 187.85,1002.16 185.86,1008.46 179.97,1008.41" fill="#fafafa"/>
<polygon points="179.66,1009.18 185.57,1009.41 184.01,1014.33 178.03,1013.17" fill="#fafafa"/>
<polygon points="190.44,997.08 198.60,994.20 197.51,999.08 189.27,1000.96" fill="#fafafa"/>
<polygon points="188.98,1001.94 197.24,1000.32 195.41,1008.54 187.01,1008.47" fill="#fafafa"/>
<polygon points="186.71,1009.45 195.13,1009.78 193.70,1016.20 185.17,1014.55" fill="#fafafa"/>
<polygon points="246.60,1003.00 250.30,1001.69 249.05,1004.59 245.31,1005.44" fill="#000"/>
<polygon points="244.99,1006.06 248.74,1005.32 246.63,1010.20 242.82,1010.17" fill="#000"/>
<polygon points="242.49,1010.79 246.32,1010.94 244.67,1014.75 240.80,1014.00" fill="#000"/>
<polygon points="251.41,1001.30 257.13,999.28 255.95,1003.02 250.17,1004.33" fill="#000"/>
<polygon points="249.86,1005.10 255.65,1003.96 253.66,1010.26 247.77,1010.21" fill="#000"/>
<polygon points="247.46,1010.98 253.37,1011.21 251.81,1016.13 245.83,1014.97" fill="#000"/>
<polygon points="258.24,998.88 266.40,996.00 265.31,1000.88 257.07,1002.76" fill="#000"/>
<polygon points="256.78,1003.74 265.04,1002.12 263.21,1010.34 254.81,1010.27" fill="#000"/>
<polygon points="254.51,1011.25 262.93,1011.58 261.50,1018.00 252.97,1016.35" fill="#000"/>
<polygon points="245.00,1001.20 248.70,999.89 247.45,1002.79 243.71,1003.64" fill="#fafafa"/>
<polygon points="243.39,1004.26 247.14,1003.52 245.03,1008.40 241.22,1008.37" fill="#fafafa"/>
<polygon points="240.89,1008.99 244.72,1009.14 243.07,1012.95 239.20,1012.20" fill="#fafafa"/>
<polygon points="249.81,999.50 255.53,997.48 254.35,1001.22 248.57,1002.53" fill="#fafafa"/>
<polygon points="248.26,1003.30 254.05,1002.16 252.06,1008.46 246.17,1008.41" fill="#fafafa"/>
<polygon points="245.86,1009.18 251.77,1009.41 250.21,1014.33 244.23,1013.17" fill="#fafafa"/>
<polygon points="256.64,997.08 264.80,994.20 263.71,999.08 255.47,1000.96" fill="#fafafa"/>
<polygon points="255.18,1001.94 263.44,1000.32 261.61,1008.54 253.21,1008.47" fill="#fafafa"/>
<polygon points="252.91,1009.45 261.33,1009.78 259.90,1016.20 251.37,1014.55" fill="#fafafa"/>
<rect x="309.60" y="992.60" width="22.4" height="22" fill="none" stroke="#0b4468" stroke-width="1.2"/>
<path d="M308.40,991.40 h24.4 v24 h-24.4 Z" fill="none" stroke="#0b4468" stroke-width="1.2"/>
<rect x="307.80" y="990.80" width="22.4" height="22" fill="none" stroke="#fff" stroke-width="2"/>
<rect x="312.80" y="1017.30" width="14" height="2" fill="#0b4468"/><rect x="312.00" y="1015.00" width="14" height="2" fill="#fff"/>
<path d="M314.40,1007.70 A6.6,6.6 0 1 1 323.60,1007.70" fill="none" stroke="#0b4468" stroke-width="1.4"/>
<path d="M314.60,1006.90 A6.8,6.8 0 1 1 323.40,1006.90" fill="none" stroke="#fff" stroke-width="2.1"/>
<path d="M312.60,1007.30 h3.2 a3.2,3.2 0 0 0 6.4,0 h3.2" fill="none" stroke="#fff" stroke-width="2"/>
<path d="M315.00,1001.00 A4.6,4.6 0 0 1 323.20,1001.30" fill="none" stroke="#fff" stroke-width="1.1" stroke-dasharray="1.2,0.9"/>
<path d="M314.80,999.30 L319.80,1006.30" stroke="#fff" stroke-width="2" stroke-linecap="round"/>
<rect x="378.40" y="993.20" width="21.2" height="24.2" fill="#0b4468"/>
<rect x="376.80" y="991.80" width="21.2" height="24.2" fill="#fff"/>
<rect x="378.10" y="997.10" width="18.6" height="17.4" fill="#2a2a2a"/>
<path d="M378.70,997.60 h17 v16 h-17 Z" fill="none" stroke="#0b4468" stroke-width="1.1"/>
<path d="M379.40,1000.40 h3.6 v3 h2.4 v3.6 M385.60,999.80 h4 M387.60,999.80 v7.2 M389.40,1005.40 h5.6 M378.60,1008.00 h17 M379.40,1007.20 v1.6" fill="none" stroke="#fff" stroke-width="1.5"/>
<path d="M390.80,1003.40 v3 M393.20,1003.40 v3" stroke="#fff" stroke-width="1.2"/>
<path d="M382.60,1010.20 l1.6,2 l1.6,-2 Z M389.40,1010.20 l1.6,2 l1.6,-2 Z" fill="#fff"/>
<polygon points="441.20,998.70 452.90,992.00 467.10,999.50 467.70,1008.50 456.60,1016.70 442.70,1008.90" fill="#000"/>
<polygon points="439.90,997.10 451.60,990.40 465.80,997.90 466.40,1006.90 455.30,1015.10 441.40,1007.30" fill="#f4f4f4"/>
<polygon points="439.90,997.10 451.60,990.40 465.80,997.90 454.90,1004.60" fill="#ffffff"/>
<polyline points="439.90,997.10 454.90,1004.60 465.80,997.90" fill="none" stroke="#111" stroke-width="0.9"/>
<polyline points="440.10,999.40 455.00,1007.00 465.90,1000.30" fill="none" stroke="#111" stroke-width="0.9"/>
<polyline points="455.10,1007.00 455.30,1015.10" fill="none" stroke="#555" stroke-width="0.8"/>
<polyline points="458.00,1008.70 464.50,1004.20 464.50,1008.20 458.00,1012.70" fill="none" stroke="#777" stroke-width="0.6"/>
<polygon points="521.20,999.20 532.90,992.50 547.10,1000.00 547.70,1009.00 536.60,1017.20 522.70,1009.40" fill="#000"/>
<polygon points="519.90,997.60 531.60,990.90 545.80,998.40 546.40,1007.40 535.30,1015.60 521.40,1007.80" fill="#f4f4f4"/>
<polygon points="519.90,997.60 531.60,990.90 545.80,998.40 534.90,1005.10" fill="#ffffff"/>
<polyline points="519.90,997.60 534.90,1005.10 545.80,998.40" fill="none" stroke="#111" stroke-width="0.9"/>
<polyline points="520.10,999.90 535.00,1007.50 545.90,1000.80" fill="none" stroke="#111" stroke-width="0.9"/>
<polyline points="535.10,1007.50 535.30,1015.60" fill="none" stroke="#555" stroke-width="0.8"/>
<polyline points="538.00,1009.20 544.50,1004.70 544.50,1008.70 538.00,1013.20" fill="none" stroke="#777" stroke-width="0.6"/>
<polygon points="619.50,999.20 631.20,992.50 645.40,1000.00 646.00,1009.00 634.90,1017.20 621.00,1009.40" fill="#000"/>
<polygon points="618.20,997.60 629.90,990.90 644.10,998.40 644.70,1007.40 633.60,1015.60 619.70,1007.80" fill="#f4f4f4"/>
<polygon points="618.20,997.60 629.90,990.90 644.10,998.40 633.20,1005.10" fill="#ffffff"/>
<polyline points="618.20,997.60 633.20,1005.10 644.10,998.40" fill="none" stroke="#111" stroke-width="0.9"/>
<polyline points="618.40,999.90 633.30,1007.50 644.20,1000.80" fill="none" stroke="#111" stroke-width="0.9"/>
<polyline points="633.40,1007.50 633.60,1015.60" fill="none" stroke="#555" stroke-width="0.8"/>
<polyline points="636.30,1009.20 642.80,1004.70 642.80,1008.70 636.30,1013.20" fill="none" stroke="#777" stroke-width="0.6"/>
</svg>
<svg class="abs" style="left:0;top:1028px" width="700" height="22"><text x="43.30" y="17.3" textLength="33.70" lengthAdjust="spacingAndGlyphs" font-family="Liberation Sans" font-weight="bold" font-size="13.5" fill="#fff">AGC-1</text></svg>
<svg class="abs" style="left:0;top:1028px" width="700" height="22"><text x="101.90" y="17.3" textLength="35.10" lengthAdjust="spacingAndGlyphs" font-family="Liberation Sans" font-weight="bold" font-size="13.5" fill="#fff">AGC-2</text></svg>
<svg class="abs" style="left:0;top:1028px" width="700" height="22"><text x="171.00" y="17.3" textLength="33.90" lengthAdjust="spacingAndGlyphs" font-family="Liberation Sans" font-weight="bold" font-size="13.5" fill="#fff">AVC-1</text></svg>
<svg class="abs" style="left:0;top:1028px" width="700" height="22"><text x="237.00" y="17.3" textLength="35.10" lengthAdjust="spacingAndGlyphs" font-family="Liberation Sans" font-weight="bold" font-size="13.5" fill="#fff">AVC-2</text></svg>
<svg class="abs" style="left:0;top:1028px" width="700" height="22"><text x="298.70" y="17.3" textLength="38.70" lengthAdjust="spacingAndGlyphs" font-family="Liberation Sans" font-weight="bold" font-size="13.5" fill="#fff">Setting</text></svg>
<svg class="abs" style="left:0;top:1028px" width="700" height="22"><text x="359.40" y="17.3" textLength="53.60" lengthAdjust="spacingAndGlyphs" font-family="Liberation Sans" font-weight="bold" font-size="13.5" fill="#fff">PlanCurve</text></svg>
<svg class="abs" style="left:0;top:1028px" width="700" height="22"><text x="444.50" y="17.3" textLength="21.50" lengthAdjust="spacingAndGlyphs" font-family="Liberation Sans" font-weight="bold" font-size="13.5" fill="#fff">SLD</text></svg>
<svg class="abs" style="left:0;top:1028px" width="700" height="22"><text x="480.60" y="17.3" textLength="97.50" lengthAdjust="spacingAndGlyphs" font-family="Liberation Sans" font-weight="bold" font-size="13.5" fill="#fff">ProjectDebugging</text></svg>
<svg class="abs" style="left:0;top:1028px" width="700" height="22"><text x="593.50" y="17.3" textLength="89.10" lengthAdjust="spacingAndGlyphs" font-family="Liberation Sans" font-weight="bold" font-size="13.5" fill="#fff">Simulated check</text></svg>
<svg class="abs" style="left:0;top:0" width="1680" height="1050" viewBox="0 0 1680 1050">
<text x="1159.60" y="1019.90" textLength="113.60" lengthAdjust="spacingAndGlyphs" font-family="Liberation Sans" font-weight="bold" font-size="14.5" fill="#fff">Login user name:</text>
<text x="1294.30" y="1018.10" textLength="51.20" lengthAdjust="spacingAndGlyphs" font-family="Liberation Sans" font-weight="bold" font-size="14.5" fill="#fff">No user</text>
<text x="1371.70" y="1020.50" textLength="121.40" lengthAdjust="spacingAndGlyphs" font-family="Liberation Sans" font-weight="bold" font-size="14.5" fill="#fff">Safe running days:</text>
<text x="1501.90" y="1021.70" textLength="31.00" lengthAdjust="spacingAndGlyphs" font-family="Liberation Sans" font-weight="bold" font-size="14.5" fill="#fff">1679</text>
<text x="1159.60" y="1039.50" textLength="82.50" lengthAdjust="spacingAndGlyphs" font-family="Liberation Sans" font-weight="bold" font-size="14.5" fill="#fff">system time:</text>
<text x="1261.20" y="1038.60" textLength="135.90" lengthAdjust="spacingAndGlyphs" font-family="Liberation Sans" font-weight="bold" font-size="14.5" fill="#fff">2020-08-06 13:41:28</text>
<text x="1551.40" y="1031.90" textLength="88.10" lengthAdjust="spacingAndGlyphs" font-family="Liberation Sans" font-weight="bold" font-size="24.0" fill="#fff">fengdian</text>
</svg>
</body></html>
